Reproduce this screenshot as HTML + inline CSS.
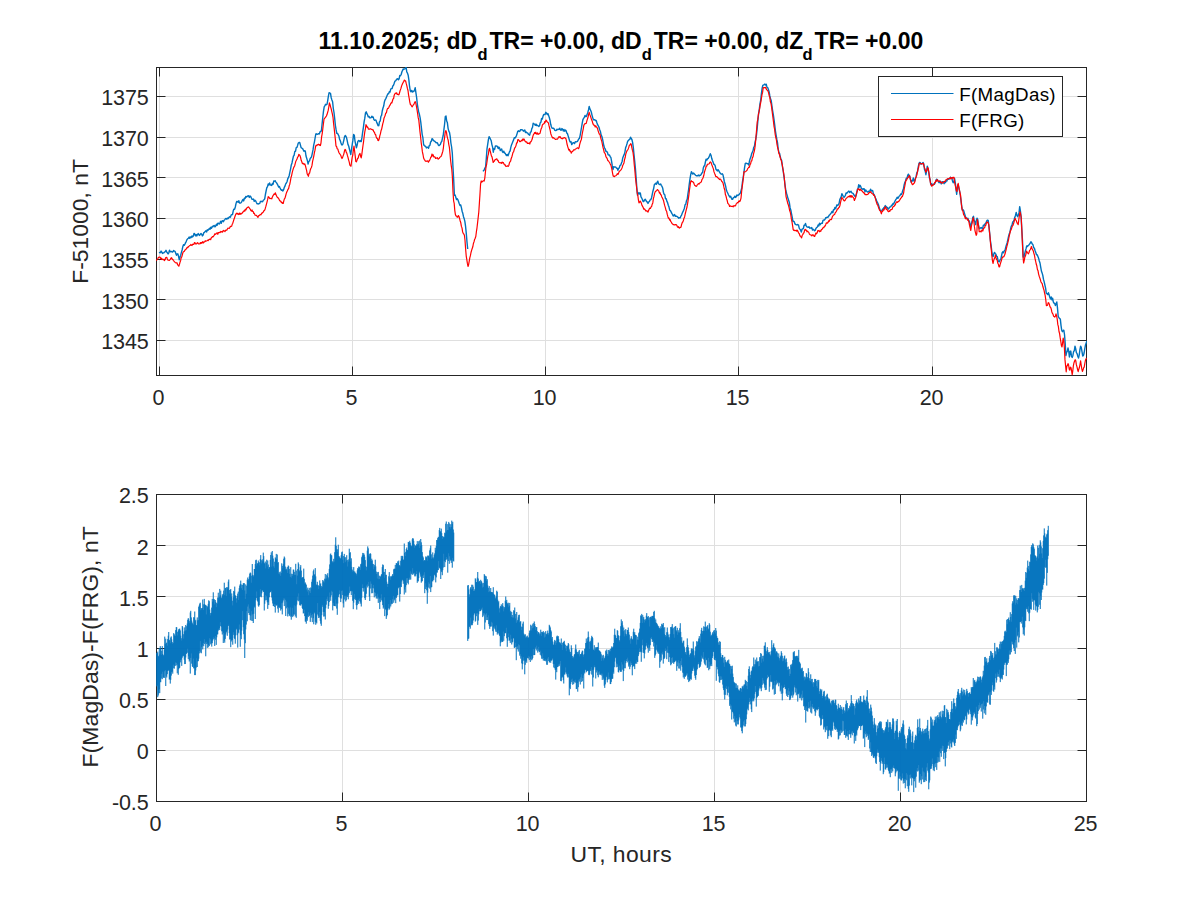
<!DOCTYPE html><html><head><meta charset="utf-8"><style>html,body{margin:0;padding:0;background:#fff;}svg{display:block;} body{font-family:"Liberation Sans",sans-serif;overflow:hidden;}</style></head><body><svg width="1200" height="900" viewBox="0 0 1200 900" font-family="&quot;Liberation Sans&quot;, sans-serif">
<rect width="1200" height="900" fill="#fff"/>
<line x1="159.5" y1="67.5" x2="159.5" y2="375.5" stroke="#dfdfdf" stroke-width="1"/>
<line x1="352.5" y1="67.5" x2="352.5" y2="375.5" stroke="#dfdfdf" stroke-width="1"/>
<line x1="545.5" y1="67.5" x2="545.5" y2="375.5" stroke="#dfdfdf" stroke-width="1"/>
<line x1="738.5" y1="67.5" x2="738.5" y2="375.5" stroke="#dfdfdf" stroke-width="1"/>
<line x1="932.5" y1="67.5" x2="932.5" y2="375.5" stroke="#dfdfdf" stroke-width="1"/>
<line x1="156.5" y1="340.5" x2="1086.5" y2="340.5" stroke="#dfdfdf" stroke-width="1"/>
<line x1="156.5" y1="299.5" x2="1086.5" y2="299.5" stroke="#dfdfdf" stroke-width="1"/>
<line x1="156.5" y1="259.5" x2="1086.5" y2="259.5" stroke="#dfdfdf" stroke-width="1"/>
<line x1="156.5" y1="218.5" x2="1086.5" y2="218.5" stroke="#dfdfdf" stroke-width="1"/>
<line x1="156.5" y1="177.5" x2="1086.5" y2="177.5" stroke="#dfdfdf" stroke-width="1"/>
<line x1="156.5" y1="137.5" x2="1086.5" y2="137.5" stroke="#dfdfdf" stroke-width="1"/>
<line x1="156.5" y1="96.5" x2="1086.5" y2="96.5" stroke="#dfdfdf" stroke-width="1"/>
<defs><clipPath id="ct"><rect x="156" y="67" width="931" height="309"/></clipPath><clipPath id="cb"><rect x="156" y="494" width="931" height="308"/></clipPath></defs>
<line x1="159.5" y1="375.5" x2="159.5" y2="366.5" stroke="#262626"/>
<line x1="159.5" y1="67.5" x2="159.5" y2="76.5" stroke="#262626"/>
<line x1="352.5" y1="375.5" x2="352.5" y2="366.5" stroke="#262626"/>
<line x1="352.5" y1="67.5" x2="352.5" y2="76.5" stroke="#262626"/>
<line x1="545.5" y1="375.5" x2="545.5" y2="366.5" stroke="#262626"/>
<line x1="545.5" y1="67.5" x2="545.5" y2="76.5" stroke="#262626"/>
<line x1="738.5" y1="375.5" x2="738.5" y2="366.5" stroke="#262626"/>
<line x1="738.5" y1="67.5" x2="738.5" y2="76.5" stroke="#262626"/>
<line x1="932.5" y1="375.5" x2="932.5" y2="366.5" stroke="#262626"/>
<line x1="932.5" y1="67.5" x2="932.5" y2="76.5" stroke="#262626"/>
<line x1="156.5" y1="340.5" x2="165.5" y2="340.5" stroke="#262626"/>
<line x1="1086.5" y1="340.5" x2="1077.5" y2="340.5" stroke="#262626"/>
<line x1="156.5" y1="299.5" x2="165.5" y2="299.5" stroke="#262626"/>
<line x1="1086.5" y1="299.5" x2="1077.5" y2="299.5" stroke="#262626"/>
<line x1="156.5" y1="259.5" x2="165.5" y2="259.5" stroke="#262626"/>
<line x1="1086.5" y1="259.5" x2="1077.5" y2="259.5" stroke="#262626"/>
<line x1="156.5" y1="218.5" x2="165.5" y2="218.5" stroke="#262626"/>
<line x1="1086.5" y1="218.5" x2="1077.5" y2="218.5" stroke="#262626"/>
<line x1="156.5" y1="177.5" x2="165.5" y2="177.5" stroke="#262626"/>
<line x1="1086.5" y1="177.5" x2="1077.5" y2="177.5" stroke="#262626"/>
<line x1="156.5" y1="137.5" x2="165.5" y2="137.5" stroke="#262626"/>
<line x1="1086.5" y1="137.5" x2="1077.5" y2="137.5" stroke="#262626"/>
<line x1="156.5" y1="96.5" x2="165.5" y2="96.5" stroke="#262626"/>
<line x1="1086.5" y1="96.5" x2="1077.5" y2="96.5" stroke="#262626"/>
<rect x="156.5" y="67.5" width="930.0" height="308.0" fill="none" stroke="#262626" stroke-width="1"/>
<g clip-path="url(#ct)">
<polyline points="159.0,252.9 159.7,252.5 160.4,252.7 161.1,251.1 161.8,252.2 162.5,253.5 163.2,252.9 163.9,252.8 164.6,252.1 165.3,251.5 166.0,250.3 166.7,252.1 167.4,252.8 168.1,254.0 168.8,252.8 169.5,250.1 170.2,251.7 170.9,251.6 171.6,251.5 172.3,252.1 173.0,251.6 173.7,250.5 174.4,251.2 175.1,251.4 175.8,253.4 176.5,255.3 177.2,253.8 177.9,254.0 178.6,256.5 179.3,259.9 180.0,257.0 180.7,255.2 181.4,252.4 182.1,250.0 182.8,246.7 183.5,244.6 184.2,245.3 184.9,244.1 185.6,242.6 186.3,241.3 187.0,239.6 187.7,238.8 188.4,238.3 189.1,237.1 189.8,238.3 190.5,236.9 191.2,237.6 191.9,235.9 192.6,236.9 193.3,236.1 194.0,233.4 194.7,233.9 195.4,235.8 196.1,234.6 196.8,235.9 197.5,234.4 198.2,233.6 198.9,235.0 199.6,235.4 200.3,234.1 201.0,233.6 201.7,234.3 202.4,235.9 203.1,235.0 203.8,232.7 204.5,232.4 205.2,231.4 205.9,230.7 206.6,232.0 207.3,229.8 208.0,230.2 208.7,229.4 209.4,228.3 210.1,229.3 210.8,227.3 211.5,228.2 212.2,226.4 212.9,226.7 213.6,225.8 214.3,225.5 215.0,226.9 215.7,226.0 216.4,224.2 217.1,225.3 217.8,223.1 218.5,223.2 219.2,224.0 219.9,223.1 220.6,221.3 221.3,223.3 222.0,220.9 222.7,220.7 223.4,221.7 224.1,220.2 224.8,219.7 225.5,218.7 226.2,218.4 226.9,219.2 227.6,218.0 228.3,218.5 229.0,217.3 229.7,216.7 230.4,217.2 231.1,215.1 231.8,214.6 232.5,214.5 233.2,211.1 233.9,209.1 234.6,209.2 235.3,207.0 236.0,203.6 236.7,201.5 237.4,201.4 238.1,202.2 238.8,200.7 239.5,203.0 240.2,203.1 240.9,202.8 241.6,202.1 242.3,200.4 243.0,199.4 243.7,200.9 244.4,198.2 245.1,198.5 245.8,196.5 246.5,197.1 247.2,196.4 247.9,195.9 248.6,195.8 249.3,197.4 250.0,196.0 250.7,196.6 251.4,198.0 252.1,199.4 252.8,199.4 253.5,199.1 254.2,201.4 254.9,200.2 255.6,200.7 256.3,202.3 257.0,203.8 257.7,203.7 258.4,204.0 259.1,203.6 259.8,203.3 260.5,201.3 261.2,201.1 261.9,201.9 262.6,201.6 263.3,200.2 264.0,199.7 264.7,198.9 265.4,194.5 266.1,191.0 266.8,187.6 267.5,186.7 268.2,183.9 268.9,185.0 269.6,183.0 270.3,185.0 271.0,185.1 271.7,185.4 272.4,183.4 273.1,184.2 273.8,180.9 274.5,181.2 275.2,180.7 275.9,182.1 276.6,182.9 277.3,184.1 278.0,185.5 278.7,187.1 279.4,186.4 280.1,188.1 280.8,189.5 281.5,190.3 282.2,189.9 282.9,191.0 283.6,189.7 284.3,187.4 285.0,186.1 285.7,183.9 286.4,183.0 287.1,181.5 287.8,178.6 288.5,177.5 289.2,175.5 289.9,172.2 290.6,168.8 291.3,164.9 292.0,162.9 292.7,159.5 293.4,156.3 294.1,155.4 294.8,151.5 295.5,151.3 296.2,147.6 296.9,147.4 297.6,145.4 298.3,143.0 299.0,142.5 299.7,142.5 300.4,144.9 301.1,147.7 301.8,148.1 302.5,148.4 303.2,149.8 303.9,151.3 304.6,150.7 305.3,151.1 306.0,156.0 306.7,158.3 307.4,160.6 308.1,164.1 308.8,161.4 309.5,161.0 310.2,158.5 310.9,157.8 311.6,156.6 312.3,153.4 313.0,149.9 313.7,145.1 314.4,142.1 315.1,138.0 315.8,134.0 316.5,133.8 317.2,134.4 317.9,134.2 318.6,133.6 319.3,133.9 320.0,131.9 320.7,131.4 321.4,130.9 322.1,123.9 322.8,117.2 323.5,111.2 324.2,106.8 324.9,105.6 325.6,104.3 326.3,104.8 327.0,104.3 327.7,100.6 328.4,96.1 329.1,92.6 329.8,93.0 330.5,93.4 331.2,97.7 331.9,99.9 332.6,101.8 333.3,108.5 334.0,112.5 334.7,118.7 335.4,125.5 336.1,129.7 336.8,133.3 337.5,133.4 338.2,134.7 338.9,136.0 339.6,139.4 340.3,140.7 341.0,143.0 341.7,144.9 342.4,144.9 343.1,143.2 343.8,140.3 344.5,136.9 345.2,135.5 345.9,136.3 346.6,137.9 347.3,141.2 348.0,144.6 348.7,146.0 349.4,149.0 350.1,151.9 350.8,154.5 351.5,149.3 352.2,144.7 352.9,140.2 353.6,134.5 354.3,135.2 355.0,141.1 355.7,144.5 356.4,147.9 357.1,145.3 357.8,141.7 358.5,140.5 359.2,140.6 359.9,141.7 360.6,140.6 361.3,141.5 362.0,137.2 362.7,131.9 363.4,127.3 364.1,121.9 364.8,118.2 365.5,112.9 366.2,111.8 366.9,113.7 367.6,115.0 368.3,116.9 369.0,116.4 369.7,117.9 370.4,117.9 371.1,117.6 371.8,116.2 372.5,117.4 373.2,117.1 373.9,119.6 374.6,120.4 375.3,120.0 376.0,120.2 376.7,122.4 377.4,123.9 378.1,125.7 378.8,125.6 379.5,121.7 380.2,121.0 380.9,116.4 381.6,115.4 382.3,110.7 383.0,108.0 383.7,106.1 384.4,101.9 385.1,99.8 385.8,98.6 386.5,97.0 387.2,95.2 387.9,93.8 388.6,93.7 389.3,91.7 390.0,92.1 390.7,89.1 391.4,88.7 392.1,88.5 392.8,86.0 393.5,85.3 394.2,83.3 394.9,81.1 395.6,80.8 396.3,79.8 397.0,78.9 397.7,78.8 398.4,79.7 399.1,78.9 399.8,75.5 400.5,75.7 401.2,74.5 401.9,71.8 402.6,70.4 403.3,68.9 404.0,69.3 404.7,68.8 405.4,68.6 406.1,67.1 406.8,72.0 407.5,73.2 408.2,75.3 408.9,80.1 409.6,86.7 410.3,90.8 411.0,91.7 411.7,90.4 412.4,92.0 413.1,91.2 413.8,91.5 414.5,90.3 415.2,87.6 415.9,92.7 416.6,97.4 417.3,103.8 418.0,108.3 418.7,111.9 419.4,114.3 420.1,117.6 420.8,122.4 421.5,128.6 422.2,134.6 422.9,137.7 423.6,144.5 424.3,145.5 425.0,146.2 425.7,146.5 426.4,147.9 427.1,147.1 427.8,147.4 428.5,148.3 429.2,145.7 429.9,145.4 430.6,142.0 431.3,141.2 432.0,138.7 432.7,139.1 433.4,140.6 434.1,140.9 434.8,141.4 435.5,142.0 436.2,142.9 436.9,142.6 437.6,143.3 438.3,145.0 439.0,145.6 439.7,145.0 440.4,144.4 441.1,142.2 441.8,141.4 442.5,138.2 443.2,135.5 443.9,129.7 444.6,124.0 445.3,116.5 446.0,116.0 446.7,121.1 447.4,122.8 448.1,128.3 448.8,131.2 449.5,132.4 450.2,136.4 450.9,143.0 451.6,147.0 452.3,153.0 453.0,167.6 453.7,180.1 454.4,195.2 455.1,195.0 455.8,197.3 456.5,199.5 457.2,198.7 457.9,199.8 458.6,201.7 459.3,203.8 460.0,205.5 460.7,204.9 461.4,207.7 462.1,211.2 462.8,213.3 463.5,216.7 464.2,218.7 464.9,221.7 465.6,226.7 466.3,233.6 467.0,242.0 467.7,249.0" fill="none" stroke="#0072BD" stroke-width="1.4" stroke-linejoin="round"/>
<polyline points="482.8,171.0 483.5,170.8 484.2,170.1 484.9,168.1 485.6,167.0 486.3,158.5 487.0,148.8 487.7,144.4 488.4,139.7 489.1,136.7 489.8,137.7 490.5,139.2 491.2,140.7 491.9,144.6 492.6,147.1 493.3,152.2 494.0,148.6 494.7,149.2 495.4,145.9 496.1,146.1 496.8,145.9 497.5,146.8 498.2,148.6 498.9,147.1 499.6,147.9 500.3,150.5 501.0,149.8 501.7,149.1 502.4,151.8 503.1,152.4 503.8,151.2 504.5,153.0 505.2,153.2 505.9,154.7 506.6,155.6 507.3,154.4 508.0,155.8 508.7,154.1 509.4,151.9 510.1,151.0 510.8,147.4 511.5,144.9 512.2,143.2 512.9,141.5 513.6,139.9 514.3,137.6 515.0,138.0 515.7,137.2 516.4,135.8 517.1,133.6 517.8,131.3 518.5,130.8 519.2,131.5 519.9,131.2 520.6,129.6 521.3,129.7 522.0,129.8 522.7,130.0 523.4,131.2 524.1,130.8 524.8,130.0 525.5,132.5 526.2,132.0 526.9,132.9 527.6,132.9 528.3,134.1 529.0,134.7 529.7,135.2 530.4,132.1 531.1,131.8 531.8,128.6 532.5,127.4 533.2,123.2 533.9,123.7 534.6,124.2 535.3,125.3 536.0,124.1 536.7,125.6 537.4,125.3 538.1,125.8 538.8,126.4 539.5,125.8 540.2,122.8 540.9,122.2 541.6,118.5 542.3,119.1 543.0,116.3 543.7,114.5 544.4,114.5 545.1,114.5 545.8,112.3 546.5,113.1 547.2,114.5 547.9,113.6 548.6,115.6 549.3,117.5 550.0,120.2 550.7,124.3 551.4,126.7 552.1,128.1 552.8,128.3 553.5,128.1 554.2,129.0 554.9,130.4 555.6,130.6 556.3,130.3 557.0,129.2 557.7,129.7 558.4,129.3 559.1,129.4 559.8,128.2 560.5,130.1 561.2,130.2 561.9,128.6 562.6,129.2 563.3,131.0 564.0,129.4 564.7,131.2 565.4,130.0 566.1,130.8 566.8,133.0 567.5,133.8 568.2,136.1 568.9,138.2 569.6,140.9 570.3,142.0 571.0,141.6 571.7,144.6 572.4,143.5 573.1,142.6 573.8,142.6 574.5,143.6 575.2,142.0 575.9,141.7 576.6,141.9 577.3,141.5 578.0,140.4 578.7,139.0 579.4,138.4 580.1,135.6 580.8,131.7 581.5,127.5 582.2,123.3 582.9,119.7 583.6,118.4 584.3,117.4 585.0,115.4 585.7,116.6 586.4,116.6 587.1,114.6 587.8,112.4 588.5,109.9 589.2,106.4 589.9,108.9 590.6,110.3 591.3,112.0 592.0,115.1 592.7,117.5 593.4,119.7 594.1,119.6 594.8,119.7 595.5,120.6 596.2,120.5 596.9,122.7 597.6,124.7 598.3,125.8 599.0,127.3 599.7,129.7 600.4,131.4 601.1,134.8 601.8,136.2 602.5,138.9 603.2,142.3 603.9,146.1 604.6,148.0 605.3,149.2 606.0,151.5 606.7,151.5 607.4,152.2 608.1,154.7 608.8,155.1 609.5,155.0 610.2,156.8 610.9,157.5 611.6,161.4 612.3,165.9 613.0,169.6 613.7,166.7 614.4,167.1 615.1,167.0 615.8,167.2 616.5,168.2 617.2,168.1 617.9,170.3 618.6,168.4 619.3,167.9 620.0,165.5 620.7,165.2 621.4,163.2 622.1,161.5 622.8,157.7 623.5,155.9 624.2,154.6 624.9,152.1 625.6,147.8 626.3,145.9 627.0,143.8 627.7,141.1 628.4,140.7 629.1,139.6 629.8,139.3 630.5,137.2 631.2,138.5 631.9,139.5 632.6,142.3 633.3,147.4 634.0,154.6 634.7,161.1 635.4,168.2 636.1,177.6 636.8,187.6 637.5,195.2 638.2,193.8 638.9,192.6 639.6,193.9 640.3,193.0 641.0,196.8 641.7,198.0 642.4,199.5 643.1,201.6 643.8,201.5 644.5,199.9 645.2,199.2 645.9,200.4 646.6,201.7 647.3,202.0 648.0,203.4 648.7,201.8 649.4,201.6 650.1,199.9 650.8,199.6 651.5,198.0 652.2,194.6 652.9,191.2 653.6,188.8 654.3,184.8 655.0,184.0 655.7,183.3 656.4,184.3 657.1,182.3 657.8,181.2 658.5,183.7 659.2,184.3 659.9,184.6 660.6,183.9 661.3,185.3 662.0,186.4 662.7,188.1 663.4,192.2 664.1,194.3 664.8,194.8 665.5,198.7 666.2,198.6 666.9,201.4 667.6,202.7 668.3,205.2 669.0,207.1 669.7,210.1 670.4,210.6 671.1,211.9 671.8,213.4 672.5,214.4 673.2,216.0 673.9,215.6 674.6,214.5 675.3,216.3 676.0,216.1 676.7,216.2 677.4,216.8 678.1,217.4 678.8,218.2 679.5,217.8 680.2,217.9 680.9,216.1 681.6,215.1 682.3,213.0 683.0,211.7 683.7,210.0 684.4,208.2 685.1,204.7 685.8,204.1 686.5,200.6 687.2,199.3 687.9,194.1 688.6,189.6 689.3,183.8 690.0,178.9 690.7,174.7 691.4,171.7 692.1,173.0 692.8,174.1 693.5,173.1 694.2,173.8 694.9,174.5 695.6,175.2 696.3,175.8 697.0,175.8 697.7,175.9 698.4,175.0 699.1,175.9 699.8,175.2 700.5,175.3 701.2,174.4 701.9,172.9 702.6,172.6 703.3,168.0 704.0,166.1 704.7,165.6 705.4,162.0 706.1,159.2 706.8,160.1 707.5,158.7 708.2,158.5 708.9,157.1 709.6,155.5 710.3,153.7 711.0,155.2 711.7,158.3 712.4,160.5 713.1,162.1 713.8,164.3 714.5,164.5 715.2,165.9 715.9,169.2 716.6,170.0 717.3,170.9 718.0,169.7 718.7,170.7 719.4,171.9 720.1,173.0 720.8,173.8 721.5,174.2 722.2,173.8 722.9,174.6 723.6,177.7 724.3,181.5 725.0,183.7 725.7,186.4 726.4,190.1 727.1,191.8 727.8,193.2 728.5,194.8 729.2,196.0 729.9,197.1 730.6,196.3 731.3,197.9 732.0,199.4 732.7,199.3 733.4,197.6 734.1,197.5 734.8,196.2 735.5,197.4 736.2,196.7 736.9,195.0 737.6,195.5 738.3,195.2 739.0,194.6 739.7,193.7 740.4,193.0 741.1,190.4 741.8,187.7 742.5,181.5 743.2,177.4 743.9,172.7 744.6,167.4 745.3,163.4 746.0,163.1 746.7,163.5 747.4,163.7 748.1,163.8 748.8,165.1 749.5,160.9 750.2,158.5 750.9,156.8 751.6,153.9 752.3,152.3 753.0,150.8 753.7,147.4 754.4,146.4 755.1,141.9 755.8,139.2 756.5,134.8 757.2,128.3 757.9,120.5 758.6,113.7 759.3,109.3 760.0,103.7 760.7,100.2 761.4,93.6 762.1,88.5 762.8,85.3 763.5,85.0 764.2,84.6 764.9,84.1 765.6,85.1 766.3,84.3 767.0,87.3 767.7,87.6 768.4,89.5 769.1,91.7 769.8,95.7 770.5,98.8 771.2,100.6 771.9,105.6 772.6,110.6 773.3,114.5 774.0,119.4 774.7,124.9 775.4,130.8 776.1,135.2 776.8,139.2 777.5,142.7 778.2,149.1 778.9,152.4 779.6,153.5 780.3,157.1 781.0,159.1 781.7,160.5 782.4,166.4 783.1,170.2 783.8,175.3 784.5,180.5 785.2,186.3 785.9,190.8 786.6,193.5 787.3,195.9 788.0,198.6 788.7,200.5 789.4,202.8 790.1,207.9 790.8,210.0 791.5,213.6 792.2,217.1 792.9,221.3 793.6,221.3 794.3,221.9 795.0,223.9 795.7,224.5 796.4,224.9 797.1,224.5 797.8,224.8 798.5,225.0 799.2,228.1 799.9,229.1 800.6,230.0 801.3,232.1 802.0,229.4 802.7,228.8 803.4,228.5 804.1,225.2 804.8,225.2 805.5,223.4 806.2,225.9 806.9,226.8 807.6,227.1 808.3,227.4 809.0,226.8 809.7,228.2 810.4,228.0 811.1,228.2 811.8,227.6 812.5,230.0 813.2,229.3 813.9,229.8 814.6,230.8 815.3,230.2 816.0,228.3 816.7,227.3 817.4,227.1 818.1,224.9 818.8,225.9 819.5,223.2 820.2,224.7 820.9,223.6 821.6,223.2 822.3,223.3 823.0,220.4 823.7,220.0 824.4,220.1 825.1,219.1 825.8,217.6 826.5,217.7 827.2,217.1 827.9,217.2 828.6,216.3 829.3,215.1 830.0,214.5 830.7,213.6 831.4,212.7 832.1,211.4 832.8,212.8 833.5,209.6 834.2,209.7 834.9,207.5 835.6,208.7 836.3,206.6 837.0,204.8 837.7,205.5 838.4,204.6 839.1,203.4 839.8,199.5 840.5,198.0 841.2,196.7 841.9,193.7 842.6,195.0 843.3,196.3 844.0,197.4 844.7,196.5 845.4,195.3 846.1,193.0 846.8,193.3 847.5,192.4 848.2,191.6 848.9,191.1 849.6,192.5 850.3,191.7 851.0,191.2 851.7,192.7 852.4,193.1 853.1,193.4 853.8,194.8 854.5,195.7 855.2,196.6 855.9,196.0 856.6,193.4 857.3,189.5 858.0,188.6 858.7,184.8 859.4,187.0 860.1,185.3 860.8,186.6 861.5,188.8 862.2,188.7 862.9,189.4 863.6,188.7 864.3,189.0 865.0,191.8 865.7,190.0 866.4,190.9 867.1,191.6 867.8,192.1 868.5,191.3 869.2,191.6 869.9,190.6 870.6,189.2 871.3,191.1 872.0,190.4 872.7,190.6 873.4,193.8 874.1,194.6 874.8,196.3 875.5,198.1 876.2,199.6 876.9,201.7 877.6,202.7 878.3,204.2 879.0,206.6 879.7,209.1 880.4,210.6 881.1,210.9 881.8,210.9 882.5,209.2 883.2,208.9 883.9,207.5 884.6,207.1 885.3,205.6 886.0,206.4 886.7,207.3 887.4,207.4 888.1,209.2 888.8,208.6 889.5,207.3 890.2,206.9 890.9,206.8 891.6,205.1 892.3,205.2 893.0,203.4 893.7,204.1 894.4,202.2 895.1,200.8 895.8,199.7 896.5,198.6 897.2,197.2 897.9,198.3 898.6,197.2 899.3,196.0 900.0,195.6 900.7,193.9 901.4,194.5 902.1,192.8 902.8,190.5 903.5,188.5 904.2,184.7 904.9,182.2 905.6,180.8 906.3,178.2 907.0,178.3 907.7,175.4 908.4,174.2 909.1,175.4 909.8,176.5 910.5,179.7 911.2,182.4 911.9,180.4 912.6,180.9 913.3,178.0 914.0,181.1 914.7,181.1 915.4,178.6 916.1,176.5 916.8,172.9 917.5,171.6 918.2,167.2 918.9,163.9 919.6,162.4 920.3,162.6 921.0,164.2 921.7,163.9 922.4,163.3 923.1,162.5 923.8,164.0 924.5,169.5 925.2,171.1 925.9,174.7 926.6,170.9 927.3,166.2 928.0,168.3 928.7,171.9 929.4,177.9 930.1,179.4 930.8,184.7 931.5,183.7 932.2,184.6 932.9,184.5 933.6,184.1 934.3,184.4 935.0,183.2 935.7,181.5 936.4,179.3 937.1,179.4 937.8,180.2 938.5,182.0 939.2,182.8 939.9,180.9 940.6,182.2 941.3,183.9 942.0,181.8 942.7,181.6 943.4,182.1 944.1,183.7 944.8,182.0 945.5,182.5 946.2,180.2 946.9,180.9 947.6,178.9 948.3,179.3 949.0,179.1 949.7,178.9 950.4,177.2 951.1,178.1 951.8,177.8 952.5,181.0 953.2,182.8 953.9,182.1 954.6,178.5 955.3,182.9 956.0,188.9 956.7,194.3 957.4,187.3 958.1,184.6 958.8,187.8 959.5,190.6 960.2,195.0 960.9,199.7 961.6,205.2 962.3,210.0 963.0,209.8 963.7,210.7 964.4,213.1 965.1,215.4 965.8,217.7 966.5,218.3 967.2,219.0 967.9,218.2 968.6,220.9 969.3,220.9 970.0,223.8 970.7,226.5 971.4,223.9 972.1,221.5 972.8,217.4 973.5,216.3 974.2,220.5 974.9,221.8 975.6,224.6 976.3,220.5 977.0,218.1 977.7,219.4 978.4,224.8 979.1,227.9 979.8,228.7 980.5,227.9 981.2,227.5 981.9,228.3 982.6,228.7 983.3,225.3 984.0,225.6 984.7,224.5 985.4,223.5 986.1,222.7 986.8,220.7 987.5,220.1 988.2,220.4 988.9,226.0 989.6,232.3 990.3,240.0 991.0,244.7 991.7,250.5 992.4,255.3 993.1,256.6 993.8,254.0 994.5,252.4 995.2,253.4 995.9,254.2 996.6,256.3 997.3,256.7 998.0,260.4 998.7,261.7 999.4,261.9 1000.1,259.8 1000.8,259.3 1001.5,256.0 1002.2,252.7 1002.9,251.8 1003.6,252.7 1004.3,250.8 1005.0,250.3 1005.7,247.5 1006.4,244.9 1007.1,243.0 1007.8,240.0 1008.5,236.7 1009.2,234.0 1009.9,232.2 1010.6,228.8 1011.3,226.2 1012.0,225.2 1012.7,222.0 1013.4,221.7 1014.1,219.7 1014.8,217.2 1015.5,215.5 1016.2,212.4 1016.9,214.9 1017.6,216.7 1018.3,215.1 1019.0,212.9 1019.7,206.6 1020.4,210.9 1021.1,216.6 1021.8,229.3 1022.5,240.9 1023.2,257.0 1023.9,257.1 1024.6,254.1 1025.3,251.1 1026.0,248.9 1026.7,246.0 1027.4,246.6 1028.1,245.5 1028.8,245.1 1029.5,244.1 1030.2,243.2 1030.9,241.7 1031.6,242.6 1032.3,244.1 1033.0,244.8 1033.7,247.6 1034.4,248.2 1035.1,250.7 1035.8,252.5 1036.5,254.7 1037.2,254.7 1037.9,256.5 1038.6,258.2 1039.3,261.0 1040.0,263.0 1040.7,267.1 1041.4,271.0 1042.1,272.9 1042.8,275.4 1043.5,279.4 1044.2,281.9 1044.9,285.1 1045.6,288.2 1046.3,293.3 1047.0,293.6 1047.7,294.6 1048.4,292.7 1049.1,294.7 1049.8,297.2 1050.5,298.9 1051.2,296.9 1051.9,299.8 1052.6,298.2 1053.3,301.9 1054.0,303.2 1054.7,303.5 1055.4,305.5 1056.1,303.7 1056.8,302.0 1057.5,308.2 1058.2,316.3 1058.9,317.7 1059.6,318.7 1060.3,318.9 1061.0,325.3 1061.7,330.2 1062.4,331.7 1063.1,330.5 1063.8,330.2 1064.5,334.5 1065.2,343.2 1065.9,355.5 1066.6,352.5 1067.3,351.3 1068.0,347.9 1068.7,351.1 1069.4,357.0 1070.1,351.6 1070.8,351.1 1071.5,356.3 1072.2,357.4 1072.9,355.4 1073.6,351.5 1074.3,350.8 1075.0,346.1 1075.7,348.8 1076.4,352.6 1077.1,353.6 1077.8,356.3 1078.5,358.0 1079.2,355.2 1079.9,349.8 1080.6,346.1 1081.3,347.5 1082.0,351.7 1082.7,356.0 1083.4,355.6 1084.1,353.0 1084.8,348.6 1085.5,344.9 1086.2,343.0 1086.9,341.0" fill="none" stroke="#0072BD" stroke-width="1.4" stroke-linejoin="round"/>
<polyline points="156.0,260.1 156.6,260.1 157.2,259.3 157.8,258.9 158.4,257.3 159.0,257.3 159.6,257.0 160.2,257.2 160.8,258.7 161.4,258.2 162.0,259.6 162.6,259.1 163.2,259.4 163.8,259.7 164.4,260.6 165.0,259.6 165.6,257.8 166.2,257.5 166.8,257.3 167.4,259.4 168.0,260.1 168.6,260.3 169.2,260.5 169.8,259.9 170.4,259.3 171.0,258.0 171.6,257.7 172.2,259.3 172.8,259.3 173.4,260.6 174.0,261.1 174.6,261.8 175.2,262.4 175.8,262.8 176.4,262.9 177.0,262.8 177.6,264.7 178.2,265.2 178.8,266.2 179.4,264.5 180.0,262.3 180.6,260.7 181.2,257.7 181.8,256.9 182.4,254.7 183.0,252.4 183.6,251.7 184.2,251.4 184.8,250.2 185.4,249.7 186.0,249.2 186.6,248.3 187.2,247.4 187.8,247.6 188.4,246.6 189.0,246.2 189.6,245.6 190.2,245.5 190.8,244.5 191.4,245.2 192.0,245.5 192.6,244.2 193.2,244.4 193.8,244.5 194.4,242.6 195.0,242.7 195.6,243.9 196.2,243.9 196.8,243.6 197.4,242.7 198.0,243.1 198.6,244.0 199.2,244.0 199.8,243.8 200.4,242.6 201.0,243.6 201.6,242.5 202.2,242.9 202.8,241.6 203.4,242.9 204.0,242.0 204.6,242.0 205.2,240.8 205.8,241.3 206.4,241.0 207.0,240.8 207.6,240.2 208.2,240.6 208.8,239.7 209.4,239.4 210.0,239.0 210.6,239.7 211.2,238.0 211.8,237.5 212.4,236.6 213.0,236.9 213.6,236.1 214.2,235.4 214.8,233.8 215.4,234.3 216.0,233.9 216.6,233.2 217.2,232.8 217.8,234.3 218.4,232.5 219.0,232.6 219.6,232.3 220.2,232.6 220.8,231.4 221.4,231.9 222.0,231.5 222.6,232.1 223.2,230.4 223.8,230.8 224.4,230.8 225.0,231.5 225.6,230.4 226.2,230.1 226.8,230.2 227.4,229.0 228.0,228.0 228.6,228.3 229.2,228.5 229.8,227.7 230.4,226.3 231.0,226.5 231.6,226.3 232.2,224.3 232.8,223.2 233.4,221.1 234.0,219.2 234.6,217.6 235.2,215.7 235.8,214.3 236.4,213.2 237.0,213.8 237.6,213.3 238.2,214.5 238.8,214.2 239.4,213.1 240.0,214.5 240.6,213.4 241.2,214.0 241.8,213.6 242.4,212.6 243.0,211.9 243.6,211.6 244.2,210.4 244.8,211.2 245.4,209.2 246.0,209.9 246.6,208.2 247.2,207.7 247.8,207.3 248.4,206.8 249.0,207.5 249.6,208.4 250.2,209.1 250.8,210.4 251.4,211.1 252.0,209.9 252.6,211.5 253.2,211.5 253.8,213.5 254.4,213.4 255.0,215.1 255.6,215.3 256.2,215.3 256.8,215.8 257.4,216.8 258.0,217.4 258.6,215.6 259.2,215.7 259.8,215.0 260.4,214.5 261.0,214.8 261.6,213.1 262.2,213.2 262.8,212.3 263.4,212.0 264.0,210.5 264.6,210.4 265.2,208.7 265.8,206.7 266.4,204.3 267.0,202.1 267.6,199.7 268.2,196.7 268.8,197.0 269.4,198.0 270.0,198.7 270.6,198.5 271.2,198.3 271.8,198.9 272.4,196.9 273.0,195.7 273.6,194.8 274.2,193.9 274.8,194.4 275.4,192.8 276.0,194.8 276.6,196.0 277.2,197.2 277.8,197.8 278.4,198.1 279.0,199.3 279.6,200.5 280.2,201.1 280.8,201.1 281.4,202.7 282.0,202.4 282.6,203.5 283.2,203.5 283.8,200.9 284.4,198.9 285.0,198.2 285.6,196.0 286.2,193.6 286.8,192.0 287.4,190.7 288.0,189.2 288.6,188.7 289.2,185.8 289.8,184.2 290.4,181.2 291.0,177.5 291.6,175.6 292.2,172.6 292.8,170.4 293.4,168.3 294.0,166.9 294.6,166.0 295.2,163.6 295.8,161.3 296.4,160.2 297.0,159.0 297.6,157.2 298.2,156.6 298.8,154.3 299.4,154.9 300.0,155.7 300.6,157.5 301.2,160.3 301.8,161.7 302.4,163.6 303.0,163.3 303.6,163.7 304.2,164.6 304.8,163.9 305.4,165.6 306.0,168.1 306.6,170.3 307.2,174.0 307.8,175.0 308.4,176.3 309.0,173.4 309.6,173.1 310.2,170.3 310.8,168.5 311.4,167.5 312.0,165.4 312.6,161.3 313.2,158.8 313.8,156.1 314.4,152.6 315.0,150.2 315.6,146.3 316.2,145.2 316.8,145.7 317.4,144.8 318.0,144.5 318.6,144.2 319.2,145.3 319.8,144.7 320.4,145.5 321.0,142.8 321.6,136.9 322.2,133.6 322.8,128.9 323.4,124.0 324.0,119.3 324.6,118.3 325.2,117.6 325.8,116.8 326.4,116.0 327.0,114.6 327.6,112.5 328.2,110.4 328.8,107.0 329.4,102.9 330.0,104.5 330.6,106.8 331.2,108.9 331.8,111.7 332.4,114.2 333.0,117.3 333.6,123.6 334.2,128.6 334.8,134.3 335.4,139.6 336.0,146.1 336.6,146.5 337.2,148.8 337.8,149.0 338.4,151.0 339.0,152.7 339.6,153.7 340.2,154.5 340.8,155.3 341.4,157.3 342.0,158.5 342.6,157.4 343.2,155.6 343.8,154.1 344.4,151.3 345.0,149.4 345.6,149.8 346.2,152.2 346.8,153.1 347.4,155.4 348.0,157.4 348.6,159.8 349.2,161.8 349.8,165.0 350.4,165.7 351.0,166.2 351.6,161.3 352.2,157.4 352.8,155.0 353.4,149.7 354.0,146.0 354.6,151.0 355.2,155.9 355.8,161.4 356.4,161.8 357.0,160.2 357.6,158.4 358.2,158.2 358.8,155.5 359.4,154.3 360.0,153.4 360.6,156.2 361.2,157.9 361.8,154.6 362.4,149.9 363.0,145.5 363.6,141.3 364.2,136.1 364.8,131.9 365.4,128.9 366.0,124.7 366.6,125.8 367.2,127.3 367.8,127.2 368.4,129.2 369.0,129.2 369.6,129.2 370.2,128.8 370.8,128.9 371.4,129.4 372.0,129.4 372.6,130.0 373.2,129.9 373.8,131.9 374.4,132.0 375.0,134.2 375.6,134.5 376.2,136.9 376.8,138.3 377.4,138.3 378.0,140.5 378.6,140.6 379.2,138.8 379.8,135.9 380.4,133.9 381.0,130.8 381.6,129.3 382.2,126.5 382.8,123.7 383.4,121.6 384.0,118.2 384.6,116.8 385.2,115.2 385.8,113.0 386.4,113.0 387.0,109.9 387.6,108.4 388.2,108.3 388.8,107.5 389.4,106.1 390.0,105.2 390.6,103.9 391.2,102.9 391.8,103.0 392.4,101.0 393.0,99.0 393.6,98.6 394.2,95.2 394.8,94.0 395.4,93.2 396.0,93.6 396.6,92.8 397.2,94.3 397.8,94.3 398.4,94.8 399.0,94.6 399.6,92.5 400.2,90.4 400.8,88.9 401.4,86.6 402.0,84.9 402.6,83.6 403.2,82.4 403.8,81.3 404.4,80.1 405.0,80.8 405.6,80.9 406.2,83.4 406.8,85.6 407.4,88.4 408.0,90.5 408.6,95.1 409.2,98.4 409.8,102.1 410.4,104.5 411.0,104.9 411.6,106.1 412.2,106.8 412.8,105.8 413.4,104.8 414.0,104.1 414.6,102.5 415.2,101.6 415.8,103.1 416.4,106.1 417.0,109.7 417.6,113.4 418.2,117.7 418.8,120.1 419.4,125.9 420.0,132.0 420.6,136.8 421.2,142.8 421.8,146.9 422.4,151.9 423.0,154.5 423.6,158.0 424.2,159.3 424.8,160.2 425.4,161.1 426.0,161.3 426.6,161.2 427.2,161.2 427.8,160.8 428.4,162.2 429.0,161.2 429.6,160.4 430.2,158.9 430.8,157.2 431.4,156.7 432.0,154.0 432.6,156.0 433.2,154.9 433.8,157.0 434.4,156.8 435.0,157.1 435.6,158.5 436.2,158.1 436.8,158.2 437.4,157.6 438.0,159.1 438.6,158.9 439.2,158.4 439.8,157.4 440.4,156.8 441.0,156.5 441.6,155.2 442.2,153.3 442.8,151.4 443.4,147.8 444.0,141.7 444.6,137.6 445.2,132.2 445.8,130.6 446.4,131.9 447.0,135.8 447.6,138.4 448.2,140.3 448.8,144.6 449.4,147.4 450.0,154.0 450.6,160.3 451.2,165.4 451.8,169.4 452.4,177.4 453.0,192.0 453.6,200.8 454.2,203.4 454.8,210.6 455.4,214.6 456.0,216.0 456.6,216.0 457.2,217.3 457.8,217.0 458.4,215.6 459.0,216.5 459.6,218.7 460.2,221.0 460.8,222.8 461.4,226.4 462.0,227.9 462.6,231.7 463.2,233.4 463.8,234.0 464.4,235.3 465.0,240.2 465.6,248.7 466.2,255.8 466.8,259.7 467.4,263.4 468.0,266.5 468.6,264.7 469.2,261.4 469.8,257.8 470.4,255.7 471.0,252.5 471.6,250.4 472.2,248.5 472.8,246.8 473.4,243.5 474.0,241.9 474.6,239.5 475.2,238.3 475.8,236.5 476.4,231.7 477.0,227.8 477.6,222.6 478.2,217.4 478.8,212.0 479.4,202.9 480.0,193.8 480.6,183.8 481.2,180.9 481.8,182.1 482.4,181.5 483.0,181.1 483.6,180.7 484.2,181.0 484.8,178.1 485.4,172.2 486.0,166.9 486.6,164.5 487.2,160.3 487.8,156.2 488.4,154.2 489.0,149.4 489.6,148.3 490.2,151.0 490.8,153.3 491.4,155.9 492.0,156.8 492.6,159.7 493.2,162.5 493.8,161.4 494.4,161.1 495.0,159.8 495.6,159.4 496.2,159.2 496.8,158.8 497.4,160.3 498.0,160.3 498.6,162.0 499.2,162.4 499.8,162.9 500.4,163.0 501.0,162.6 501.6,163.3 502.2,162.0 502.8,162.9 503.4,162.6 504.0,164.1 504.6,164.9 505.2,164.8 505.8,166.4 506.4,166.3 507.0,166.1 507.6,165.8 508.2,166.3 508.8,165.5 509.4,163.1 510.0,161.8 510.6,161.2 511.2,158.5 511.8,157.0 512.4,154.8 513.0,152.4 513.6,151.8 514.2,149.5 514.8,147.8 515.4,147.1 516.0,145.6 516.6,142.8 517.2,142.9 517.8,139.7 518.4,139.7 519.0,140.3 519.6,141.6 520.2,141.6 520.8,141.3 521.4,140.3 522.0,140.8 522.6,139.1 523.2,140.2 523.8,138.9 524.4,139.6 525.0,141.2 525.6,141.8 526.2,142.1 526.8,141.9 527.4,143.5 528.0,143.4 528.6,143.4 529.2,142.9 529.8,144.0 530.4,141.9 531.0,141.7 531.6,140.5 532.2,139.1 532.8,136.6 533.4,134.6 534.0,133.9 534.6,132.5 535.2,133.5 535.8,132.2 536.4,133.7 537.0,134.2 537.6,132.9 538.2,134.4 538.8,133.9 539.4,133.7 540.0,133.3 540.6,130.8 541.2,128.7 541.8,127.5 542.4,124.8 543.0,124.2 543.6,123.9 544.2,123.5 544.8,121.5 545.4,122.1 546.0,120.0 546.6,120.9 547.2,121.9 547.8,122.3 548.4,122.9 549.0,125.7 549.6,128.0 550.2,130.4 550.8,133.7 551.4,135.4 552.0,136.9 552.6,137.9 553.2,137.6 553.8,138.0 554.4,138.5 555.0,138.9 555.6,139.5 556.2,139.3 556.8,139.0 557.4,139.2 558.0,138.3 558.6,137.1 559.2,136.7 559.8,137.5 560.4,136.8 561.0,138.3 561.6,138.5 562.2,138.8 562.8,138.1 563.4,138.2 564.0,137.7 564.6,137.6 565.2,138.1 565.8,138.4 566.4,140.7 567.0,144.0 567.6,146.2 568.2,148.1 568.8,150.1 569.4,149.5 570.0,151.4 570.6,151.1 571.2,153.2 571.8,152.0 572.4,151.6 573.0,151.0 573.6,149.9 574.2,149.9 574.8,149.9 575.4,149.0 576.0,148.8 576.6,148.4 577.2,147.9 577.8,147.9 578.4,148.7 579.0,147.8 579.6,144.8 580.2,142.6 580.8,140.7 581.4,139.4 582.0,135.2 582.6,132.0 583.2,129.1 583.8,125.6 584.4,124.2 585.0,123.6 585.6,123.6 586.2,123.4 586.8,121.2 587.4,119.1 588.0,117.5 588.6,114.4 589.2,112.3 589.8,114.4 590.4,116.1 591.0,117.8 591.6,119.8 592.2,121.0 592.8,123.3 593.4,124.8 594.0,125.2 594.6,125.3 595.2,127.0 595.8,125.9 596.4,127.0 597.0,127.4 597.6,128.8 598.2,131.1 598.8,132.8 599.4,134.2 600.0,134.4 600.6,137.3 601.2,139.6 601.8,141.4 602.4,144.5 603.0,147.4 603.6,149.5 604.2,152.3 604.8,153.1 605.4,154.3 606.0,156.9 606.6,157.7 607.2,158.6 607.8,160.7 608.4,160.8 609.0,161.8 609.6,162.4 610.2,164.0 610.8,164.9 611.4,167.1 612.0,169.8 612.6,173.3 613.2,176.1 613.8,176.2 614.4,176.7 615.0,176.0 615.6,175.8 616.2,175.4 616.8,174.6 617.4,173.7 618.0,174.4 618.6,173.0 619.2,171.5 619.8,171.0 620.4,170.4 621.0,169.9 621.6,168.7 622.2,167.4 622.8,165.3 623.4,164.2 624.0,162.7 624.6,159.4 625.2,157.5 625.8,154.0 626.4,152.4 627.0,150.7 627.6,150.1 628.2,148.9 628.8,147.2 629.4,145.2 630.0,144.9 630.6,143.7 631.2,144.1 631.8,147.3 632.4,150.2 633.0,152.3 633.6,156.8 634.2,164.3 634.8,169.8 635.4,176.9 636.0,182.4 636.6,187.5 637.2,192.8 637.8,195.3 638.4,199.8 639.0,203.0 639.6,202.1 640.2,201.1 640.8,202.1 641.4,203.3 642.0,205.4 642.6,206.4 643.2,207.5 643.8,209.2 644.4,208.8 645.0,209.6 645.6,210.8 646.2,211.1 646.8,210.7 647.4,211.5 648.0,212.0 648.6,210.5 649.2,209.1 649.8,208.2 650.4,208.4 651.0,207.0 651.6,206.6 652.2,204.2 652.8,202.9 653.4,198.7 654.0,196.4 654.6,193.4 655.2,191.9 655.8,191.0 656.4,191.0 657.0,190.0 657.6,189.6 658.2,190.5 658.8,190.9 659.4,193.2 660.0,192.6 660.6,194.6 661.2,194.8 661.8,197.0 662.4,197.9 663.0,199.3 663.6,200.8 664.2,203.6 664.8,205.9 665.4,207.9 666.0,210.4 666.6,211.1 667.2,214.2 667.8,216.4 668.4,218.2 669.0,218.0 669.6,220.2 670.2,219.6 670.8,221.6 671.4,222.2 672.0,223.5 672.6,223.9 673.2,224.6 673.8,224.6 674.4,224.9 675.0,224.9 675.6,224.6 676.2,224.6 676.8,225.3 677.4,226.9 678.0,227.3 678.6,226.6 679.2,228.1 679.8,227.9 680.4,227.4 681.0,227.2 681.6,224.5 682.2,222.7 682.8,222.0 683.4,220.5 684.0,218.2 684.6,216.9 685.2,214.0 685.8,211.6 686.4,209.2 687.0,207.0 687.6,203.7 688.2,199.7 688.8,195.7 689.4,190.4 690.0,186.5 690.6,181.7 691.2,180.7 691.8,181.6 692.4,181.6 693.0,182.0 693.6,182.5 694.2,184.2 694.8,185.4 695.4,185.7 696.0,186.3 696.6,186.2 697.2,184.9 697.8,184.4 698.4,183.6 699.0,184.1 699.6,183.4 700.2,182.5 700.8,182.2 701.4,181.7 702.0,179.4 702.6,178.9 703.2,177.3 703.8,175.5 704.4,172.3 705.0,170.4 705.6,168.5 706.2,166.1 706.8,166.1 707.4,164.3 708.0,164.2 708.6,164.0 709.2,163.7 709.8,162.4 710.4,161.9 711.0,162.5 711.6,164.3 712.2,165.8 712.8,167.4 713.4,168.9 714.0,171.9 714.6,173.4 715.2,174.8 715.8,176.6 716.4,176.6 717.0,176.7 717.6,177.8 718.2,178.0 718.8,178.7 719.4,179.5 720.0,179.0 720.6,179.3 721.2,180.3 721.8,181.5 722.4,181.9 723.0,183.0 723.6,185.5 724.2,188.5 724.8,189.9 725.4,194.6 726.0,196.0 726.6,198.7 727.2,200.5 727.8,203.3 728.4,203.9 729.0,204.6 729.6,206.5 730.2,205.9 730.8,206.2 731.4,206.4 732.0,206.4 732.6,206.2 733.2,206.8 733.8,205.7 734.4,205.7 735.0,206.1 735.6,205.6 736.2,203.9 736.8,203.4 737.4,202.5 738.0,202.8 738.6,201.5 739.2,200.8 739.8,201.6 740.4,200.4 741.0,198.2 741.6,192.0 742.2,186.9 742.8,182.6 743.4,177.7 744.0,171.7 744.6,172.0 745.2,171.8 745.8,171.4 746.4,170.8 747.0,170.4 747.6,168.9 748.2,168.0 748.8,167.0 749.4,167.3 750.0,164.6 750.6,163.8 751.2,161.1 751.8,160.9 752.4,157.7 753.0,156.9 753.6,153.6 754.2,151.5 754.8,148.7 755.4,143.6 756.0,136.5 756.6,129.6 757.2,122.1 757.8,119.4 758.4,114.5 759.0,111.9 759.6,108.9 760.2,105.0 760.8,102.2 761.4,98.3 762.0,94.6 762.6,92.4 763.2,87.7 763.8,87.8 764.4,87.5 765.0,87.8 765.6,87.3 766.2,88.9 766.8,89.9 767.4,90.4 768.0,91.1 768.6,92.9 769.2,95.7 769.8,97.2 770.4,101.8 771.0,103.4 771.6,107.2 772.2,111.8 772.8,116.5 773.4,121.1 774.0,126.3 774.6,129.2 775.2,134.5 775.8,137.6 776.4,139.9 777.0,144.5 777.6,147.5 778.2,149.5 778.8,153.3 779.4,154.4 780.0,156.6 780.6,158.9 781.2,160.2 781.8,162.8 782.4,165.5 783.0,169.5 783.6,173.0 784.2,176.8 784.8,183.8 785.4,189.3 786.0,196.3 786.6,198.9 787.2,201.0 787.8,203.6 788.4,205.0 789.0,207.3 789.6,210.3 790.2,212.0 790.8,215.0 791.4,219.2 792.0,221.9 792.6,225.6 793.2,229.6 793.8,230.3 794.4,230.2 795.0,230.7 795.6,230.6 796.2,230.1 796.8,231.3 797.4,230.2 798.0,231.5 798.6,233.1 799.2,233.5 799.8,235.4 800.4,236.4 801.0,236.9 801.6,237.8 802.2,235.3 802.8,234.7 803.4,233.0 804.0,232.9 804.6,230.2 805.2,229.3 805.8,230.3 806.4,230.2 807.0,231.8 807.6,231.2 808.2,231.9 808.8,232.4 809.4,234.1 810.0,234.7 810.6,234.9 811.2,235.0 811.8,235.9 812.4,234.9 813.0,234.9 813.6,235.2 814.2,236.5 814.8,236.4 815.4,234.2 816.0,233.0 816.6,233.8 817.2,232.8 817.8,230.6 818.4,231.0 819.0,230.5 819.6,231.8 820.2,231.1 820.8,231.3 821.4,229.5 822.0,229.4 822.6,228.2 823.2,227.7 823.8,227.7 824.4,226.2 825.0,226.2 825.6,224.9 826.2,223.3 826.8,222.8 827.4,223.2 828.0,222.5 828.6,220.8 829.2,221.4 829.8,219.8 830.4,219.7 831.0,219.7 831.6,219.2 832.2,217.1 832.8,216.0 833.4,215.2 834.0,214.8 834.6,214.5 835.2,212.9 835.8,212.1 836.4,211.3 837.0,209.9 837.6,208.8 838.2,208.8 838.8,207.6 839.4,207.0 840.0,205.2 840.6,202.1 841.2,199.8 841.8,197.3 842.4,198.3 843.0,199.0 843.6,200.2 844.2,201.0 844.8,200.7 845.4,199.8 846.0,198.6 846.6,198.1 847.2,197.3 847.8,197.0 848.4,196.4 849.0,196.8 849.6,195.8 850.2,197.0 850.8,195.5 851.4,197.1 852.0,195.7 852.6,196.9 853.2,197.3 853.8,198.3 854.4,200.5 855.0,199.0 855.6,197.8 856.2,194.5 856.8,192.5 857.4,190.7 858.0,188.8 858.6,189.3 859.2,189.1 859.8,190.4 860.4,189.2 861.0,189.8 861.6,190.5 862.2,191.2 862.8,191.7 863.4,192.8 864.0,192.6 864.6,193.9 865.2,194.7 865.8,194.4 866.4,194.8 867.0,194.6 867.6,194.5 868.2,194.0 868.8,192.9 869.4,192.6 870.0,192.5 870.6,191.7 871.2,192.6 871.8,193.4 872.4,193.9 873.0,193.8 873.6,195.3 874.2,195.2 874.8,196.5 875.4,198.4 876.0,200.9 876.6,202.7 877.2,204.5 877.8,205.2 878.4,207.1 879.0,208.8 879.6,210.3 880.2,210.7 880.8,212.1 881.4,213.8 882.0,211.4 882.6,211.5 883.2,209.7 883.8,210.1 884.4,209.0 885.0,207.0 885.6,206.9 886.2,209.3 886.8,209.0 887.4,210.3 888.0,211.2 888.6,211.7 889.2,210.8 889.8,211.3 890.4,210.0 891.0,209.6 891.6,209.6 892.2,209.2 892.8,207.2 893.4,206.5 894.0,206.5 894.6,205.1 895.2,205.1 895.8,203.3 896.4,202.1 897.0,201.9 897.6,202.4 898.2,201.3 898.8,201.4 899.4,200.5 900.0,199.7 900.6,198.2 901.2,198.0 901.8,196.7 902.4,196.7 903.0,194.7 903.6,193.1 904.2,188.8 904.8,186.2 905.4,182.8 906.0,180.1 906.6,180.1 907.2,178.6 907.8,177.8 908.4,177.3 909.0,176.1 909.6,175.7 910.2,178.6 910.8,180.5 911.4,182.2 912.0,184.0 912.6,184.7 913.2,184.2 913.8,183.2 914.4,183.2 915.0,180.8 915.6,178.1 916.2,176.9 916.8,175.1 917.4,172.2 918.0,169.3 918.6,167.5 919.2,163.7 919.8,163.1 920.4,163.6 921.0,163.7 921.6,163.9 922.2,163.8 922.8,163.4 923.4,163.4 924.0,166.2 924.6,167.9 925.2,169.4 925.8,172.1 926.4,171.3 927.0,169.9 927.6,167.7 928.2,168.3 928.8,172.0 929.4,175.7 930.0,180.2 930.6,183.6 931.2,185.1 931.8,186.3 932.4,185.1 933.0,185.4 933.6,184.5 934.2,184.1 934.8,182.3 935.4,182.3 936.0,180.4 936.6,181.0 937.2,179.5 937.8,180.8 938.4,181.3 939.0,181.3 939.6,181.1 940.2,181.5 940.8,182.8 941.4,182.3 942.0,182.8 942.6,183.2 943.2,182.0 943.8,182.2 944.4,181.4 945.0,181.5 945.6,180.8 946.2,179.5 946.8,179.3 947.4,179.1 948.0,178.6 948.6,178.9 949.2,178.4 949.8,178.2 950.4,177.4 951.0,179.0 951.6,178.0 952.2,177.5 952.8,178.3 953.4,177.3 954.0,177.4 954.6,182.2 955.2,185.1 955.8,187.9 956.4,190.9 957.0,191.3 957.6,185.5 958.2,183.4 958.8,186.5 959.4,190.2 960.0,192.6 960.6,195.4 961.2,202.4 961.8,208.0 962.4,210.3 963.0,211.6 963.6,214.6 964.2,215.4 964.8,216.9 965.4,218.8 966.0,217.7 966.6,218.3 967.2,219.0 967.8,220.3 968.4,219.8 969.0,222.3 969.6,225.7 970.2,228.0 970.8,230.5 971.4,226.1 972.0,223.7 972.6,220.2 973.2,217.6 973.8,220.8 974.4,226.4 975.0,230.6 975.6,233.1 976.2,235.3 976.8,234.0 977.4,219.5 978.0,222.8 978.6,226.2 979.2,231.8 979.8,231.5 980.4,231.2 981.0,232.0 981.6,230.7 982.2,229.9 982.8,231.0 983.4,228.9 984.0,227.8 984.6,227.8 985.2,225.6 985.8,225.4 986.4,222.9 987.0,222.2 987.6,222.1 988.2,223.1 988.8,224.8 989.4,231.1 990.0,236.7 990.6,244.3 991.2,248.7 991.8,255.2 992.4,260.3 993.0,263.5 993.6,260.9 994.2,258.9 994.8,257.8 995.4,255.1 996.0,257.7 996.6,259.6 997.2,260.2 997.8,263.3 998.4,264.3 999.0,266.8 999.6,266.8 1000.2,264.2 1000.8,262.4 1001.4,260.6 1002.0,258.2 1002.6,257.1 1003.2,256.8 1003.8,256.8 1004.4,255.4 1005.0,254.1 1005.6,251.7 1006.2,249.4 1006.8,246.6 1007.4,244.6 1008.0,241.8 1008.6,239.5 1009.2,236.0 1009.8,233.6 1010.4,231.0 1011.0,230.0 1011.6,228.3 1012.2,226.3 1012.8,225.7 1013.4,224.0 1014.0,222.2 1014.6,219.6 1015.2,218.4 1015.8,220.0 1016.4,220.8 1017.0,222.8 1017.6,223.7 1018.2,224.7 1018.8,219.8 1019.4,215.4 1020.0,211.9 1020.6,214.0 1021.2,217.5 1021.8,229.2 1022.4,243.6 1023.0,256.5 1023.6,263.0 1024.2,260.7 1024.8,257.3 1025.4,256.0 1026.0,253.8 1026.6,251.0 1027.2,252.5 1027.8,253.0 1028.4,253.8 1029.0,252.5 1029.6,250.4 1030.2,249.8 1030.8,248.6 1031.4,246.5 1032.0,248.7 1032.6,249.6 1033.2,250.7 1033.8,253.1 1034.4,255.0 1035.0,258.4 1035.6,261.0 1036.2,264.0 1036.8,265.8 1037.4,269.5 1038.0,270.6 1038.6,274.1 1039.2,276.2 1039.8,277.9 1040.4,279.8 1041.0,282.0 1041.6,282.9 1042.2,283.6 1042.8,286.3 1043.4,288.2 1044.0,290.1 1044.6,293.1 1045.2,295.7 1045.8,300.0 1046.4,305.6 1047.0,305.5 1047.6,305.2 1048.2,302.7 1048.8,302.9 1049.4,304.4 1050.0,306.9 1050.6,307.2 1051.2,308.9 1051.8,311.7 1052.4,313.4 1053.0,314.1 1053.6,316.3 1054.2,316.5 1054.8,317.0 1055.4,316.2 1056.0,313.8 1056.6,315.9 1057.2,319.0 1057.8,324.4 1058.4,326.7 1059.0,331.5 1059.6,333.7 1060.2,337.9 1060.8,341.5 1061.4,345.6 1062.0,347.0 1062.6,342.9 1063.2,338.1 1063.8,341.0 1064.4,348.2 1065.0,359.9 1065.6,365.9 1066.2,371.8 1066.8,366.2 1067.4,365.5 1068.0,363.6 1068.6,365.0 1069.2,369.1 1069.8,370.2 1070.4,367.2 1071.0,367.7 1071.6,370.9 1072.2,374.7 1072.8,370.8 1073.4,365.6 1074.0,362.7 1074.6,361.0 1075.2,359.7 1075.8,360.8 1076.4,364.9 1077.0,366.9 1077.6,369.7 1078.2,371.6 1078.8,369.2 1079.4,367.5 1080.0,364.6 1080.6,360.8 1081.2,365.0 1081.8,368.9 1082.4,371.4 1083.0,370.0 1083.6,367.9 1084.2,367.2 1084.8,363.6 1085.4,360.5 1086.0,359.0 1086.6,358.0" fill="none" stroke="#FF0000" stroke-width="1.2" stroke-linejoin="round"/>
</g>
<g font-size="21.5" letter-spacing="-0.15" fill="#262626">
<text x="158.5" y="405" text-anchor="middle">0</text>
<text x="351.5" y="405" text-anchor="middle">5</text>
<text x="544.5" y="405" text-anchor="middle">10</text>
<text x="737.5" y="405" text-anchor="middle">15</text>
<text x="931.5" y="405" text-anchor="middle">20</text>
<text x="148.5" y="349.1" text-anchor="end">1345</text>
<text x="148.5" y="308.5" text-anchor="end">1350</text>
<text x="148.5" y="267.8" text-anchor="end">1355</text>
<text x="148.5" y="227.2" text-anchor="end">1360</text>
<text x="148.5" y="186.6" text-anchor="end">1365</text>
<text x="148.5" y="145.9" text-anchor="end">1370</text>
<text x="148.5" y="105.3" text-anchor="end">1375</text>
</g>
<rect x="878.5" y="76.5" width="184" height="60" fill="#fff" stroke="#262626"/>
<line x1="891" y1="93.5" x2="953.5" y2="93.5" stroke="#0072BD" stroke-width="1.1"/>
<line x1="891" y1="119.5" x2="953.5" y2="119.5" stroke="#FF0000" stroke-width="1.1"/>
<g font-size="18.75" fill="#000" letter-spacing="0.33"><text x="959.2" y="101">F(MagDas)</text><text x="959.2" y="127">F(FRG)</text></g>
<g font-size="23" font-weight="bold" fill="#000"><text x="318.5" y="49">11.10.2025; dD</text><text x="477.5" y="59.5" font-size="16.5">d</text><text x="489.5" y="49">TR= +0.00, dD</text><text x="641.7" y="59.5" font-size="16.5">d</text><text x="653.75" y="49">TR= +0.00, dZ</text><text x="802.5" y="59.5" font-size="16.5">d</text><text x="814.6" y="49">TR= +0.00</text></g>
<text transform="translate(87.8,283.8) rotate(-90)" font-size="22.9" fill="#262626">F-51000, nT</text>
<line x1="342.5" y1="494.5" x2="342.5" y2="801.5" stroke="#dfdfdf" stroke-width="1"/>
<line x1="528.5" y1="494.5" x2="528.5" y2="801.5" stroke="#dfdfdf" stroke-width="1"/>
<line x1="714.5" y1="494.5" x2="714.5" y2="801.5" stroke="#dfdfdf" stroke-width="1"/>
<line x1="900.5" y1="494.5" x2="900.5" y2="801.5" stroke="#dfdfdf" stroke-width="1"/>
<line x1="156.5" y1="750.5" x2="1086.5" y2="750.5" stroke="#dfdfdf" stroke-width="1"/>
<line x1="156.5" y1="699.5" x2="1086.5" y2="699.5" stroke="#dfdfdf" stroke-width="1"/>
<line x1="156.5" y1="648.5" x2="1086.5" y2="648.5" stroke="#dfdfdf" stroke-width="1"/>
<line x1="156.5" y1="596.5" x2="1086.5" y2="596.5" stroke="#dfdfdf" stroke-width="1"/>
<line x1="156.5" y1="545.5" x2="1086.5" y2="545.5" stroke="#dfdfdf" stroke-width="1"/>
<line x1="156.5" y1="801.5" x2="156.5" y2="792.5" stroke="#262626"/>
<line x1="156.5" y1="494.5" x2="156.5" y2="503.5" stroke="#262626"/>
<line x1="342.5" y1="801.5" x2="342.5" y2="792.5" stroke="#262626"/>
<line x1="342.5" y1="494.5" x2="342.5" y2="503.5" stroke="#262626"/>
<line x1="528.5" y1="801.5" x2="528.5" y2="792.5" stroke="#262626"/>
<line x1="528.5" y1="494.5" x2="528.5" y2="503.5" stroke="#262626"/>
<line x1="714.5" y1="801.5" x2="714.5" y2="792.5" stroke="#262626"/>
<line x1="714.5" y1="494.5" x2="714.5" y2="503.5" stroke="#262626"/>
<line x1="900.5" y1="801.5" x2="900.5" y2="792.5" stroke="#262626"/>
<line x1="900.5" y1="494.5" x2="900.5" y2="503.5" stroke="#262626"/>
<line x1="1086.5" y1="801.5" x2="1086.5" y2="792.5" stroke="#262626"/>
<line x1="1086.5" y1="494.5" x2="1086.5" y2="503.5" stroke="#262626"/>
<line x1="156.5" y1="801.5" x2="165.5" y2="801.5" stroke="#262626"/>
<line x1="1086.5" y1="801.5" x2="1077.5" y2="801.5" stroke="#262626"/>
<line x1="156.5" y1="750.5" x2="165.5" y2="750.5" stroke="#262626"/>
<line x1="1086.5" y1="750.5" x2="1077.5" y2="750.5" stroke="#262626"/>
<line x1="156.5" y1="699.5" x2="165.5" y2="699.5" stroke="#262626"/>
<line x1="1086.5" y1="699.5" x2="1077.5" y2="699.5" stroke="#262626"/>
<line x1="156.5" y1="648.5" x2="165.5" y2="648.5" stroke="#262626"/>
<line x1="1086.5" y1="648.5" x2="1077.5" y2="648.5" stroke="#262626"/>
<line x1="156.5" y1="596.5" x2="165.5" y2="596.5" stroke="#262626"/>
<line x1="1086.5" y1="596.5" x2="1077.5" y2="596.5" stroke="#262626"/>
<line x1="156.5" y1="545.5" x2="165.5" y2="545.5" stroke="#262626"/>
<line x1="1086.5" y1="545.5" x2="1077.5" y2="545.5" stroke="#262626"/>
<line x1="156.5" y1="494.5" x2="165.5" y2="494.5" stroke="#262626"/>
<line x1="1086.5" y1="494.5" x2="1077.5" y2="494.5" stroke="#262626"/>
<rect x="156.5" y="494.5" width="930.0" height="307.0" fill="none" stroke="#262626" stroke-width="1"/>
<g clip-path="url(#cb)">
<path d="M156.75 652.9V686.4M157.25 653.3V685.5M157.75 651.6V697.2M158.25 655.8V695.5M158.75 656.8V693.4M159.25 648.0V689.3M159.75 654.5V693.1M160.25 646.1V682.1M160.75 649.0V682.2M161.25 654.8V678.5M161.75 650.9V673.9M162.25 646.1V679.2M162.75 654.0V671.7M163.25 655.0V677.3M163.75 656.1V677.8M164.25 649.4V677.9M164.75 636.6V671.2M165.25 644.1V670.0M165.75 638.7V686.0M166.25 643.2V675.8M166.75 642.6V677.5M167.25 645.6V674.2M167.75 639.1V670.9M168.25 635.7V670.7M168.75 632.0V669.9M169.25 639.8V679.6M169.75 640.6V679.2M170.25 643.2V683.6M170.75 637.5V679.8M171.25 636.4V675.6M171.75 639.3V672.0M172.25 642.1V671.5M172.75 643.9V673.7M173.25 643.0V664.7M173.75 633.1V668.2M174.25 634.3V668.7M174.75 635.8V665.9M175.25 635.9V665.8M175.75 630.1V662.3M176.25 627.1V662.9M176.75 627.3V665.4M177.25 635.5V673.3M177.75 632.0V664.4M178.25 630.8V674.8M178.75 629.3V669.2M179.25 628.9V668.1M179.75 628.6V667.7M180.25 630.4V662.4M180.75 635.7V660.1M181.25 638.2V659.5M181.75 640.5V665.9M182.25 626.0V657.7M182.75 627.3V655.9M183.25 634.2V655.4M183.75 638.6V656.3M184.25 631.4V659.7M184.75 627.4V664.1M185.25 630.7V664.0M185.75 625.0V657.5M186.25 630.2V654.0M186.75 626.2V653.1M187.25 623.5V652.7M187.75 619.7V648.7M188.25 618.1V659.2M188.75 619.4V656.2M189.25 621.1V661.5M189.75 623.2V660.2M190.25 612.5V673.6M190.75 610.8V657.9M191.25 617.4V653.4M191.75 620.6V663.7M192.25 622.6V666.4M192.75 624.1V667.0M193.25 624.7V658.6M193.75 617.2V668.4M194.25 617.6V668.2M194.75 611.5V675.1M195.25 621.2V675.1M195.75 619.8V670.5M196.25 625.1V667.6M196.75 625.3V658.3M197.25 617.4V667.0M197.75 620.5V661.4M198.25 620.0V661.1M198.75 606.7V658.7M199.25 605.4V653.4M199.75 603.6V651.0M200.25 602.7V641.1M200.75 610.2V652.6M201.25 608.0V653.3M201.75 609.3V647.1M202.25 608.0V645.6M202.75 599.5V649.4M203.25 610.0V643.0M203.75 604.3V646.2M204.25 598.9V639.2M204.75 604.1V644.0M205.25 605.3V642.6M205.75 605.0V656.3M206.25 614.4V641.7M206.75 605.7V644.0M207.25 606.4V647.9M207.75 607.4V643.5M208.25 603.8V647.3M208.75 600.3V645.1M209.25 601.2V646.1M209.75 609.6V638.1M210.25 615.4V639.5M210.75 613.1V644.4M211.25 612.8V643.1M211.75 607.6V646.6M212.25 598.9V643.2M212.75 601.6V640.6M213.25 592.3V639.3M213.75 599.1V637.3M214.25 599.3V638.5M214.75 604.4V646.0M215.25 600.0V636.0M215.75 601.8V639.8M216.25 607.1V644.9M216.75 602.9V637.3M217.25 603.7V634.4M217.75 597.5V634.3M218.25 592.7V630.6M218.75 598.1V629.5M219.25 596.9V628.1M219.75 588.9V630.1M220.25 595.3V622.2M220.75 590.6V626.0M221.25 597.4V626.8M221.75 598.3V631.3M222.25 594.3V634.5M222.75 595.6V631.3M223.25 593.8V643.0M223.75 590.6V633.1M224.25 582.7V640.6M224.75 595.1V642.7M225.25 588.1V638.9M225.75 587.8V634.5M226.25 596.1V632.4M226.75 587.2V631.2M227.25 587.2V635.8M227.75 588.6V629.5M228.25 581.7V626.0M228.75 579.5V624.7M229.25 589.9V633.1M229.75 593.5V639.5M230.25 590.1V639.0M230.75 589.0V647.2M231.25 596.7V641.5M231.75 593.4V640.0M232.25 600.7V640.0M232.75 605.4V644.7M233.25 597.3V632.3M233.75 590.9V634.9M234.25 591.7V638.0M234.75 586.6V639.1M235.25 595.4V643.7M235.75 595.7V635.4M236.25 598.3V629.5M236.75 602.6V628.6M237.25 596.1V635.1M237.75 593.6V647.6M238.25 591.6V631.9M238.75 599.9V633.3M239.25 588.1V624.5M239.75 585.5V629.6M240.25 584.0V646.8M240.75 580.6V635.3M241.25 588.2V639.2M241.75 584.5V630.7M242.25 590.0V620.2M242.75 585.0V611.1M243.25 583.2V627.2M243.75 583.4V634.2M244.25 583.2V639.5M244.75 590.4V658.0M245.25 598.9V643.2M245.75 584.4V629.4M246.25 593.8V624.6M246.75 585.7V611.1M247.25 579.7V621.3M247.75 577.5V606.6M248.25 580.6V604.4M248.75 579.1V613.1M249.25 576.4V615.1M249.75 573.6V608.5M250.25 572.5V620.1M250.75 573.2V615.6M251.25 582.7V620.8M251.75 575.7V611.2M252.25 564.0V614.4M252.75 574.9V621.0M253.25 576.8V623.0M253.75 575.4V613.8M254.25 569.0V606.3M254.75 569.0V607.5M255.25 564.0V619.0M255.75 560.2V600.2M256.25 559.7V598.1M256.75 565.6V591.5M257.25 563.2V600.6M257.75 563.6V601.6M258.25 560.5V605.6M258.75 562.4V606.7M259.25 562.3V605.2M259.75 565.3V597.0M260.25 559.1V589.1M260.75 555.1V596.5M261.25 560.2V597.3M261.75 563.4V593.3M262.25 559.3V590.6M262.75 561.3V590.2M263.25 552.6V592.0M263.75 556.1V591.7M264.25 562.8V610.5M264.75 563.9V603.8M265.25 561.5V600.4M265.75 568.4V595.1M266.25 562.8V596.1M266.75 559.7V600.2M267.25 566.4V602.3M267.75 560.5V608.9M268.25 564.5V602.2M268.75 569.0V605.1M269.25 567.1V597.3M269.75 567.3V592.9M270.25 559.9V592.0M270.75 555.0V591.8M271.25 552.3V590.8M271.75 566.7V597.5M272.25 551.0V600.5M272.75 555.6V603.5M273.25 558.5V606.0M273.75 566.3V606.2M274.25 567.8V604.0M274.75 561.7V607.0M275.25 557.4V612.6M275.75 558.4V604.4M276.25 553.9V605.3M276.75 559.2V605.6M277.25 554.5V604.6M277.75 562.9V608.6M278.25 562.1V612.7M278.75 573.7V606.9M279.25 572.2V606.8M279.75 574.4V608.1M280.25 571.5V607.6M280.75 576.0V610.6M281.25 573.0V609.2M281.75 563.3V603.2M282.25 565.9V614.4M282.75 568.2V602.5M283.25 564.2V600.5M283.75 558.7V598.4M284.25 556.5V606.1M284.75 557.7V598.5M285.25 566.6V599.9M285.75 569.5V616.0M286.25 568.7V608.4M286.75 570.2V601.6M287.25 566.9V607.1M287.75 573.0V616.5M288.25 565.5V613.8M288.75 566.3V607.8M289.25 568.9V616.1M289.75 573.8V615.1M290.25 576.9V607.4M290.75 567.1V616.7M291.25 577.7V619.7M291.75 573.7V616.1M292.25 576.0V607.8M292.75 574.1V617.1M293.25 569.6V615.9M293.75 569.7V614.3M294.25 571.8V605.3M294.75 574.9V614.6M295.25 574.9V616.5M295.75 563.8V606.2M296.25 570.6V617.8M296.75 584.2V604.6M297.25 575.5V596.5M297.75 569.1V600.4M298.25 562.4V601.3M298.75 564.1V593.4M299.25 570.4V600.5M299.75 571.7V605.3M300.25 567.2V604.7M300.75 565.1V605.7M301.25 570.6V604.4M301.75 578.0V604.0M302.25 577.5V608.0M302.75 577.3V609.0M303.25 576.9V613.5M303.75 568.6V613.0M304.25 578.8V609.7M304.75 583.5V616.1M305.25 582.4V621.5M305.75 583.8V621.6M306.25 584.8V623.7M306.75 589.4V619.1M307.25 591.5V620.8M307.75 587.6V615.7M308.25 589.8V617.1M308.75 595.2V612.2M309.25 587.9V616.0M309.75 591.2V614.8M310.25 593.0V621.9M310.75 587.4V612.9M311.25 588.2V617.7M311.75 581.8V615.2M312.25 579.3V622.1M312.75 575.6V614.0M313.25 571.2V618.2M313.75 569.5V624.3M314.25 574.8V612.1M314.75 574.3V613.4M315.25 568.1V621.8M315.75 576.4V624.8M316.25 585.2V622.2M316.75 584.5V623.4M317.25 581.8V614.5M317.75 585.3V603.1M318.25 585.3V615.8M318.75 588.9V618.0M319.25 586.0V617.6M319.75 580.4V611.9M320.25 584.1V620.9M320.75 583.3V623.7M321.25 587.7V625.8M321.75 586.0V615.2M322.25 587.0V605.0M322.75 580.0V606.8M323.25 582.2V611.9M323.75 580.7V616.6M324.25 582.5V612.0M324.75 578.7V616.4M325.25 574.0V619.5M325.75 579.5V608.3M326.25 578.4V604.7M326.75 574.6V598.9M327.25 575.9V600.9M327.75 573.2V596.5M328.25 577.4V608.8M328.75 579.5V606.0M329.25 568.9V602.1M329.75 564.4V592.5M330.25 554.4V597.3M330.75 553.5V600.8M331.25 555.2V595.5M331.75 555.4V590.8M332.25 562.4V591.8M332.75 561.2V610.4M333.25 562.4V602.9M333.75 558.8V605.7M334.25 561.6V606.0M334.75 552.2V606.0M335.25 544.7V606.3M335.75 537.3V599.5M336.25 545.8V603.6M336.75 549.3V608.6M337.25 552.0V614.8M337.75 549.3V603.5M338.25 544.7V597.2M338.75 556.0V595.4M339.25 557.8V594.1M339.75 556.5V590.4M340.25 558.2V598.2M340.75 558.7V602.1M341.25 555.1V598.6M341.75 552.2V590.9M342.25 551.5V590.4M342.75 559.7V595.0M343.25 555.9V603.4M343.75 563.1V607.5M344.25 553.9V599.5M344.75 557.3V595.8M345.25 562.2V595.8M345.75 557.2V601.5M346.25 560.5V600.2M346.75 555.2V595.8M347.25 559.9V597.1M347.75 566.5V595.4M348.25 561.6V599.3M348.75 559.4V594.7M349.25 548.7V592.9M349.75 553.0V586.6M350.25 552.2V591.3M350.75 561.4V590.9M351.25 558.3V595.2M351.75 566.9V590.9M352.25 569.6V591.4M352.75 571.7V600.8M353.25 570.9V609.2M353.75 567.1V602.7M354.25 572.3V594.1M354.75 571.3V599.3M355.25 572.6V598.5M355.75 573.4V600.0M356.25 573.7V605.2M356.75 575.4V609.6M357.25 570.3V605.1M357.75 568.1V602.8M358.25 568.9V599.9M358.75 566.5V603.9M359.25 566.8V598.5M359.75 567.7V601.1M360.25 570.0V601.8M360.75 564.2V603.7M361.25 563.6V606.5M361.75 557.2V597.8M362.25 555.6V588.1M362.75 552.9V584.4M363.25 554.8V591.6M363.75 553.1V588.3M364.25 554.6V587.6M364.75 556.8V598.2M365.25 560.1V600.0M365.75 565.9V597.3M366.25 570.3V593.8M366.75 567.0V585.6M367.25 550.7V584.2M367.75 546.4V587.5M368.25 548.3V585.9M368.75 555.5V581.9M369.25 553.9V596.6M369.75 556.7V601.0M370.25 553.2V588.6M370.75 553.9V581.4M371.25 561.0V583.8M371.75 558.7V593.3M372.25 560.3V587.9M372.75 563.8V593.1M373.25 564.1V584.9M373.75 569.3V588.4M374.25 566.6V597.4M374.75 564.8V592.1M375.25 559.7V592.9M375.75 566.4V596.3M376.25 571.6V598.5M376.75 574.0V595.6M377.25 578.5V598.7M377.75 572.2V593.8M378.25 571.9V602.9M378.75 579.2V597.4M379.25 575.7V598.7M379.75 579.1V609.1M380.25 576.3V602.1M380.75 576.7V598.4M381.25 574.7V594.3M381.75 574.1V600.3M382.25 567.1V601.6M382.75 564.4V605.1M383.25 565.1V608.6M383.75 572.1V607.2M384.25 571.9V597.3M384.75 577.7V616.1M385.25 569.0V608.9M385.75 574.9V609.7M386.25 574.8V618.9M386.75 581.7V616.4M387.25 583.8V615.1M387.75 586.9V610.3M388.25 583.9V608.4M388.75 576.3V604.1M389.25 572.1V609.6M389.75 577.8V608.3M390.25 576.3V600.0M390.75 579.8V606.5M391.25 576.5V604.3M391.75 576.3V603.1M392.25 575.3V603.9M392.75 574.0V599.2M393.25 575.9V595.9M393.75 569.3V602.8M394.25 568.7V600.4M394.75 568.9V599.1M395.25 564.9V597.3M395.75 568.6V603.2M396.25 563.0V598.0M396.75 563.4V596.7M397.25 564.1V594.8M397.75 561.3V595.3M398.25 562.6V588.3M398.75 560.6V587.3M399.25 565.9V587.0M399.75 565.0V601.6M400.25 566.3V594.1M400.75 560.7V586.6M401.25 555.9V587.1M401.75 558.5V581.5M402.25 555.8V579.5M402.75 556.3V580.3M403.25 559.8V583.8M403.75 559.6V580.9M404.25 543.5V594.5M404.75 552.9V589.5M405.25 556.0V587.0M405.75 551.8V592.6M406.25 549.0V585.2M406.75 547.5V578.3M407.25 549.9V578.1M407.75 550.4V582.9M408.25 541.9V584.4M408.75 542.4V579.9M409.25 542.6V577.7M409.75 540.8V579.7M410.25 542.7V571.3M410.75 544.9V579.6M411.25 546.5V574.0M411.75 545.9V572.7M412.25 539.3V574.9M412.75 538.1V568.2M413.25 538.6V574.4M413.75 540.9V573.1M414.25 544.3V572.7M414.75 547.8V576.4M415.25 545.4V574.8M415.75 546.1V576.3M416.25 545.7V574.1M416.75 544.1V571.2M417.25 541.1V582.8M417.75 545.1V580.9M418.25 543.8V581.4M418.75 541.2V578.1M419.25 547.9V572.6M419.75 540.5V571.4M420.25 545.9V574.5M420.75 539.0V576.7M421.25 542.3V582.7M421.75 545.1V581.3M422.25 552.1V581.2M422.75 556.1V576.1M423.25 557.4V578.0M423.75 561.2V574.8M424.25 560.6V572.2M424.75 560.0V593.2M425.25 560.6V589.0M425.75 556.4V583.3M426.25 557.7V586.8M426.75 556.7V590.3M427.25 560.7V603.8M427.75 555.5V592.7M428.25 556.2V587.6M428.75 555.6V582.2M429.25 557.5V583.7M429.75 550.4V588.6M430.25 548.3V576.0M430.75 545.5V592.1M431.25 554.3V587.3M431.75 558.8V587.1M432.25 557.5V581.0M432.75 552.4V581.5M433.25 558.8V578.4M433.75 557.4V580.2M434.25 555.1V574.2M434.75 553.4V575.1M435.25 547.8V576.2M435.75 550.5V582.4M436.25 545.8V577.4M436.75 540.0V572.4M437.25 540.2V572.6M437.75 538.1V570.0M438.25 536.8V570.1M438.75 537.2V561.1M439.25 530.1V567.4M439.75 527.9V568.2M440.25 531.5V569.1M440.75 531.3V579.0M441.25 528.6V570.7M441.75 533.1V572.1M442.25 536.0V575.2M442.75 538.9V570.2M443.25 536.5V567.5M443.75 537.4V553.8M444.25 537.2V561.0M444.75 532.7V567.1M445.25 533.4V562.2M445.75 523.7V560.2M446.25 521.5V557.0M446.75 531.4V559.6M447.25 530.0V558.7M447.75 524.1V572.7M448.25 530.1V561.0M448.75 521.9V553.3M449.25 523.4V563.8M449.75 527.0V556.3M450.25 528.7V559.7M450.75 524.2V560.7M451.25 527.0V562.9M451.75 520.6V560.2M452.25 523.8V567.7M452.75 521.8V557.9M453.25 529.5V560.8M453.75 532.6V561.5" stroke="#0072BD" stroke-width="1" fill="none"/>
<path d="M467.75 585.5V640.9M468.25 585.0V638.8M468.75 589.6V638.5M469.25 597.1V626.4M469.75 594.3V626.9M470.25 588.4V628.7M470.75 587.1V617.7M471.25 589.6V625.3M471.75 584.7V624.6M472.25 588.8V625.2M472.75 584.8V623.2M473.25 586.7V620.5M473.75 591.0V615.2M474.25 591.0V613.3M474.75 589.3V613.4M475.25 578.3V621.6M475.75 579.3V620.7M476.25 582.0V616.2M476.75 582.3V613.4M477.25 577.6V613.2M477.75 572.0V624.9M478.25 578.5V620.6M478.75 582.1V614.3M479.25 580.8V608.9M479.75 581.4V611.3M480.25 583.8V610.9M480.75 579.8V611.1M481.25 581.2V608.7M481.75 581.7V609.9M482.25 583.2V607.6M482.75 587.7V617.1M483.25 586.8V615.7M483.75 582.9V613.3M484.25 574.1V613.3M484.75 575.4V629.5M485.25 575.9V622.5M485.75 578.9V614.6M486.25 576.3V613.2M486.75 581.0V620.1M487.25 579.2V617.2M487.75 585.4V620.1M488.25 587.8V615.3M488.75 592.1V624.1M489.25 586.1V625.9M489.75 591.4V628.9M490.25 591.7V626.6M490.75 588.0V626.5M491.25 592.2V621.8M491.75 592.0V626.5M492.25 592.1V622.7M492.75 593.2V631.2M493.25 587.2V635.6M493.75 594.0V627.5M494.25 595.2V626.3M494.75 594.7V628.7M495.25 599.1V629.7M495.75 597.5V631.7M496.25 596.2V625.3M496.75 590.7V631.9M497.25 591.8V634.6M497.75 599.7V633.0M498.25 602.4V630.6M498.75 601.2V633.6M499.25 608.3V635.1M499.75 612.5V636.1M500.25 606.6V646.3M500.75 606.1V642.8M501.25 604.3V640.3M501.75 607.0V641.8M502.25 605.4V641.8M502.75 603.1V641.9M503.25 606.4V631.6M503.75 611.3V640.8M504.25 608.4V636.2M504.75 607.0V633.1M505.25 600.7V633.3M505.75 596.5V632.9M506.25 601.9V627.8M506.75 599.9V638.3M507.25 603.2V646.8M507.75 604.3V640.7M508.25 602.7V637.2M508.75 607.2V633.5M509.25 605.5V640.7M509.75 602.9V640.2M510.25 612.4V642.9M510.75 610.8V634.8M511.25 617.0V638.8M511.75 612.0V644.5M512.25 615.0V642.4M512.75 617.5V641.8M513.25 617.6V638.2M513.75 610.2V638.4M514.25 611.0V647.7M514.75 607.5V647.9M515.25 618.4V647.0M515.75 613.9V642.8M516.25 622.9V660.2M516.75 612.0V646.8M517.25 621.4V646.2M517.75 619.9V649.3M518.25 617.3V651.6M518.75 615.1V644.1M519.25 614.7V645.2M519.75 622.4V655.7M520.25 621.7V654.1M520.75 621.2V658.7M521.25 626.6V656.4M521.75 630.1V663.4M522.25 627.0V669.4M522.75 623.6V664.1M523.25 621.6V657.2M523.75 633.5V660.7M524.25 635.7V660.4M524.75 634.5V674.3M525.25 634.3V664.8M525.75 637.7V661.7M526.25 637.3V660.7M526.75 636.4V662.8M527.25 635.6V657.7M527.75 637.6V658.1M528.25 637.7V658.5M528.75 637.4V655.9M529.25 633.1V660.1M529.75 630.7V656.8M530.25 630.4V662.0M530.75 624.7V659.0M531.25 625.7V656.2M531.75 630.4V660.3M532.25 628.2V659.3M532.75 624.3V658.0M533.25 623.1V648.9M533.75 627.5V655.1M534.25 621.5V655.1M534.75 624.0V654.9M535.25 626.2V647.1M535.75 629.9V648.6M536.25 627.4V650.5M536.75 627.0V645.7M537.25 631.1V648.7M537.75 634.2V652.6M538.25 632.5V650.8M538.75 632.0V646.9M539.25 633.4V652.1M539.75 635.5V651.7M540.25 633.6V654.9M540.75 629.7V650.6M541.25 635.9V656.2M541.75 631.9V658.7M542.25 632.1V658.8M542.75 632.6V653.4M543.25 631.1V660.5M543.75 632.6V658.1M544.25 637.6V660.8M544.75 632.4V660.6M545.25 636.7V659.3M545.75 631.1V661.3M546.25 634.2V660.4M546.75 634.3V664.7M547.25 633.2V664.8M547.75 630.6V658.6M548.25 635.1V657.0M548.75 633.2V661.0M549.25 624.8V662.5M549.75 625.9V662.2M550.25 627.4V660.5M550.75 630.0V662.8M551.25 631.4V660.4M551.75 638.6V660.7M552.25 637.0V659.6M552.75 641.4V658.1M553.25 644.6V663.9M553.75 644.9V667.5M554.25 642.3V664.1M554.75 639.9V668.3M555.25 640.8V670.0M555.75 644.9V679.6M556.25 642.7V669.6M556.75 636.4V672.2M557.25 635.6V667.1M557.75 637.1V667.0M558.25 636.1V664.4M558.75 639.1V666.4M559.25 642.1V665.8M559.75 642.8V663.8M560.25 644.0V661.0M560.75 642.7V680.9M561.25 638.5V681.3M561.75 645.0V677.7M562.25 649.8V676.3M562.75 642.9V677.3M563.25 642.3V680.1M563.75 641.8V683.5M564.25 640.8V674.3M564.75 643.8V674.6M565.25 644.9V672.5M565.75 648.5V667.4M566.25 651.1V674.3M566.75 645.9V672.6M567.25 645.5V676.4M567.75 646.6V677.6M568.25 643.0V673.9M568.75 644.2V677.3M569.25 649.3V695.3M569.75 651.6V687.8M570.25 652.0V689.1M570.75 654.2V684.0M571.25 645.3V679.6M571.75 648.1V682.2M572.25 656.0V678.7M572.75 658.0V684.8M573.25 656.6V681.0M573.75 658.3V684.1M574.25 654.7V680.5M574.75 654.1V682.3M575.25 649.3V682.7M575.75 644.5V679.8M576.25 649.3V689.1M576.75 651.7V688.9M577.25 652.0V683.0M577.75 653.6V691.7M578.25 654.2V687.2M578.75 651.4V679.8M579.25 649.9V681.6M579.75 656.4V678.9M580.25 654.5V684.5M580.75 654.0V677.3M581.25 654.1V674.3M581.75 652.4V682.0M582.25 650.7V681.0M582.75 650.8V678.0M583.25 656.7V675.3M583.75 654.7V688.5M584.25 654.0V672.4M584.75 648.9V673.5M585.25 648.2V669.4M585.75 643.0V670.2M586.25 638.5V672.3M586.75 642.6V671.3M587.25 641.2V670.9M587.75 637.4V670.6M588.25 631.5V671.2M588.75 636.9V674.9M589.25 649.0V675.2M589.75 641.8V673.8M590.25 640.8V669.7M590.75 642.4V671.0M591.25 638.3V667.0M591.75 635.8V674.6M592.25 637.0V669.9M592.75 638.2V686.5M593.25 649.7V677.5M593.75 649.6V669.7M594.25 645.2V665.5M594.75 650.7V667.3M595.25 649.2V667.1M595.75 647.2V678.5M596.25 648.1V672.5M596.75 647.2V670.2M597.25 647.1V670.7M597.75 647.2V675.2M598.25 642.6V677.3M598.75 650.1V672.3M599.25 650.7V671.2M599.75 650.8V674.6M600.25 651.7V675.1M600.75 652.3V673.9M601.25 654.3V673.5M601.75 660.9V675.5M602.25 658.2V679.9M602.75 655.5V673.7M603.25 654.8V677.7M603.75 660.4V679.6M604.25 658.6V685.7M604.75 657.7V687.9M605.25 655.9V684.4M605.75 650.6V680.1M606.25 651.7V677.2M606.75 649.5V675.7M607.25 655.8V682.4M607.75 653.9V679.9M608.25 650.0V672.5M608.75 655.6V679.2M609.25 649.6V677.4M609.75 651.4V679.3M610.25 651.2V684.1M610.75 648.9V684.0M611.25 648.4V681.9M611.75 646.4V678.9M612.25 647.8V678.6M612.75 647.3V678.7M613.25 646.5V671.8M613.75 643.0V673.7M614.25 634.8V667.2M614.75 628.7V661.6M615.25 634.8V658.2M615.75 635.9V657.1M616.25 638.0V667.3M616.75 638.2V663.4M617.25 630.2V664.3M617.75 630.8V666.9M618.25 635.1V672.0M618.75 636.0V672.5M619.25 640.2V665.7M619.75 641.6V670.2M620.25 635.7V670.9M620.75 626.2V672.0M621.25 619.4V671.7M621.75 623.1V662.2M622.25 621.2V669.7M622.75 625.4V664.5M623.25 631.2V681.1M623.75 627.5V671.0M624.25 636.4V668.2M624.75 630.2V660.6M625.25 633.6V668.3M625.75 629.1V663.2M626.25 634.2V661.0M626.75 635.9V659.0M627.25 630.0V662.4M627.75 630.0V657.7M628.25 627.5V660.9M628.75 632.0V666.6M629.25 634.6V664.8M629.75 640.2V669.2M630.25 638.5V666.7M630.75 643.7V661.4M631.25 636.2V663.1M631.75 638.3V665.0M632.25 639.3V675.3M632.75 639.6V667.1M633.25 631.8V665.5M633.75 628.7V666.0M634.25 633.6V666.5M634.75 632.1V669.1M635.25 634.8V663.8M635.75 635.0V663.3M636.25 635.4V660.4M636.75 644.6V663.8M637.25 639.6V661.9M637.75 636.7V661.9M638.25 639.8V656.1M638.75 633.2V654.4M639.25 631.9V652.0M639.75 628.6V648.3M640.25 622.9V651.2M640.75 615.4V652.2M641.25 616.2V661.8M641.75 613.9V652.1M642.25 623.0V645.3M642.75 615.1V639.7M643.25 618.6V653.0M643.75 616.9V651.6M644.25 622.5V658.4M644.75 619.7V653.5M645.25 619.2V649.7M645.75 620.7V646.3M646.25 615.7V645.6M646.75 613.1V642.9M647.25 616.8V647.3M647.75 617.5V648.1M648.25 616.0V652.7M648.75 619.7V644.7M649.25 617.5V647.7M649.75 626.5V650.9M650.25 617.0V645.2M650.75 616.7V638.2M651.25 617.8V637.1M651.75 616.4V639.2M652.25 615.8V642.0M652.75 616.1V639.7M653.25 616.1V641.4M653.75 612.0V646.5M654.25 610.8V642.8M654.75 618.0V657.9M655.25 622.3V655.5M655.75 619.4V654.0M656.25 622.8V649.8M656.75 623.3V644.8M657.25 624.3V651.0M657.75 625.5V652.4M658.25 626.1V653.7M658.75 627.5V651.6M659.25 628.0V654.0M659.75 629.3V667.8M660.25 626.3V661.8M660.75 628.8V657.5M661.25 628.1V660.4M661.75 623.8V653.3M662.25 624.6V654.5M662.75 624.8V651.8M663.25 623.0V663.6M663.75 627.8V659.0M664.25 633.9V658.7M664.75 627.2V657.6M665.25 635.0V648.2M665.75 636.8V651.1M666.25 636.2V649.8M666.75 632.2V659.2M667.25 627.5V652.7M667.75 632.3V646.3M668.25 637.3V652.9M668.75 634.5V661.9M669.25 637.2V653.5M669.75 639.8V657.2M670.25 633.9V662.4M670.75 627.0V665.3M671.25 627.7V664.2M671.75 626.7V658.0M672.25 624.1V657.1M672.75 628.9V662.9M673.25 627.7V661.8M673.75 634.2V663.9M674.25 637.7V662.2M674.75 627.0V662.1M675.25 626.2V660.1M675.75 626.2V661.2M676.25 630.3V660.5M676.75 631.6V670.8M677.25 627.8V666.3M677.75 634.8V662.3M678.25 630.2V660.2M678.75 632.3V668.5M679.25 632.6V663.2M679.75 628.2V668.6M680.25 623.2V661.0M680.75 631.9V670.7M681.25 640.5V665.3M681.75 637.2V658.3M682.25 643.4V666.9M682.75 642.7V672.7M683.25 641.3V677.4M683.75 640.6V673.3M684.25 646.6V678.8M684.75 648.7V676.3M685.25 653.5V676.9M685.75 652.0V675.8M686.25 654.8V675.4M686.75 647.1V673.5M687.25 638.4V673.5M687.75 645.0V679.6M688.25 647.3V676.9M688.75 650.7V682.1M689.25 656.9V680.1M689.75 654.8V681.1M690.25 653.5V679.2M690.75 653.4V678.6M691.25 649.4V679.7M691.75 648.3V673.5M692.25 648.8V670.4M692.75 651.2V671.0M693.25 641.5V666.7M693.75 649.5V668.6M694.25 655.3V670.7M694.75 657.6V675.7M695.25 651.2V678.0M695.75 646.6V679.8M696.25 646.3V675.0M696.75 641.1V670.4M697.25 641.9V669.1M697.75 644.9V664.5M698.25 640.8V664.1M698.75 638.5V662.3M699.25 636.1V667.9M699.75 638.5V666.9M700.25 642.4V666.6M700.75 633.7V664.6M701.25 629.9V661.6M701.75 627.8V655.6M702.25 633.5V658.7M702.75 631.0V657.4M703.25 630.7V652.1M703.75 626.3V659.5M704.25 630.9V662.7M704.75 626.9V664.4M705.25 621.6V657.7M705.75 627.5V665.4M706.25 626.6V659.7M706.75 630.5V660.2M707.25 626.4V668.0M707.75 625.1V666.9M708.25 629.7V657.9M708.75 628.5V670.3M709.25 623.2V661.8M709.75 624.7V669.1M710.25 631.7V666.2M710.75 636.3V664.7M711.25 634.9V664.0M711.75 636.1V666.1M712.25 633.5V658.0M712.75 632.2V656.2M713.25 634.3V651.5M713.75 630.8V652.1M714.25 630.0V659.2M714.75 632.1V660.0M715.25 633.5V658.0M715.75 628.0V660.4M716.25 630.6V680.8M716.75 635.9V666.7M717.25 637.8V667.0M717.75 638.2V669.4M718.25 642.3V673.7M718.75 644.8V676.3M719.25 644.9V682.0M719.75 641.1V682.8M720.25 642.0V676.2M720.75 653.2V680.1M721.25 657.0V679.8M721.75 658.4V676.5M722.25 655.0V679.2M722.75 655.1V684.6M723.25 657.7V688.2M723.75 662.7V690.1M724.25 666.8V694.7M724.75 656.8V699.5M725.25 659.8V694.9M725.75 661.9V688.1M726.25 662.2V686.2M726.75 663.2V689.1M727.25 661.1V695.3M727.75 660.2V692.4M728.25 662.9V686.6M728.75 659.5V692.8M729.25 663.7V696.8M729.75 664.4V705.9M730.25 665.9V704.3M730.75 673.7V709.4M731.25 666.2V705.6M731.75 669.0V719.5M732.25 665.7V711.4M732.75 673.6V712.0M733.25 677.1V713.4M733.75 681.7V718.7M734.25 682.4V722.4M734.75 682.9V716.2M735.25 683.3V721.6M735.75 687.8V725.6M736.25 683.6V726.5M736.75 687.8V718.2M737.25 688.1V721.2M737.75 685.3V724.4M738.25 690.4V724.4M738.75 689.4V720.4M739.25 690.6V714.3M739.75 690.8V717.3M740.25 688.3V718.7M740.75 687.9V727.4M741.25 688.7V727.6M741.75 691.8V731.1M742.25 686.2V733.3M742.75 687.1V727.4M743.25 685.5V725.6M743.75 688.4V721.5M744.25 684.2V719.9M744.75 685.0V726.4M745.25 679.8V726.4M745.75 681.5V724.0M746.25 680.9V719.2M746.75 685.8V714.4M747.25 689.1V709.4M747.75 682.0V707.7M748.25 675.7V710.4M748.75 669.0V704.4M749.25 666.3V701.9M749.75 672.0V697.9M750.25 678.2V704.4M750.75 674.9V700.9M751.25 670.6V709.2M751.75 671.3V712.1M752.25 667.6V701.4M752.75 666.3V698.6M753.25 666.8V700.1M753.75 657.5V701.4M754.25 664.2V698.5M754.75 666.7V693.8M755.25 659.6V686.0M755.75 664.2V691.9M756.25 661.5V706.6M756.75 657.5V697.8M757.25 661.3V697.1M757.75 662.0V695.9M758.25 661.1V695.8M758.75 666.5V690.5M759.25 666.0V688.5M759.75 657.2V686.1M760.25 657.2V687.2M760.75 653.0V688.6M761.25 653.9V691.2M761.75 662.7V687.8M762.25 658.6V684.8M762.75 655.8V677.9M763.25 661.4V680.5M763.75 655.7V683.5M764.25 645.9V684.6M764.75 645.6V687.7M765.25 642.3V690.1M765.75 649.3V685.1M766.25 651.2V689.8M766.75 653.9V679.6M767.25 647.1V678.2M767.75 649.9V674.9M768.25 652.2V677.1M768.75 652.7V676.2M769.25 654.3V691.8M769.75 651.9V686.7M770.25 654.5V681.8M770.75 656.1V675.1M771.25 651.0V681.2M771.75 640.2V682.2M772.25 647.5V681.6M772.75 650.2V689.5M773.25 645.0V688.7M773.75 643.3V685.0M774.25 647.5V694.7M774.75 647.5V680.8M775.25 648.7V694.0M775.75 653.4V685.4M776.25 651.5V680.1M776.75 651.4V684.4M777.25 652.7V683.2M777.75 656.6V681.7M778.25 657.2V682.3M778.75 653.4V686.3M779.25 658.2V683.2M779.75 660.5V682.3M780.25 655.6V691.4M780.75 657.0V689.8M781.25 651.2V693.8M781.75 653.0V685.5M782.25 655.8V700.4M782.75 661.3V693.4M783.25 660.7V687.8M783.75 658.3V687.5M784.25 656.2V684.7M784.75 655.5V687.0M785.25 662.6V689.1M785.75 659.4V688.4M786.25 658.4V693.7M786.75 662.0V695.8M787.25 667.1V690.4M787.75 670.1V697.0M788.25 666.5V695.0M788.75 669.6V688.1M789.25 668.9V691.4M789.75 676.0V700.1M790.25 673.8V699.6M790.75 664.9V697.9M791.25 664.3V695.7M791.75 666.5V695.1M792.25 663.5V691.5M792.75 660.1V697.7M793.25 652.3V695.4M793.75 652.3V694.3M794.25 651.1V687.4M794.75 656.1V685.4M795.25 657.2V692.5M795.75 656.2V687.8M796.25 655.8V695.3M796.75 656.1V688.5M797.25 657.4V694.1M797.75 655.8V701.6M798.25 657.9V693.6M798.75 649.8V694.3M799.25 661.7V692.7M799.75 662.6V698.2M800.25 663.6V698.4M800.75 669.1V696.7M801.25 668.2V694.5M801.75 669.7V700.5M802.25 667.7V690.7M802.75 672.0V698.3M803.25 671.0V697.3M803.75 677.4V706.3M804.25 680.3V705.8M804.75 676.5V710.0M805.25 677.3V707.5M805.75 679.3V722.6M806.25 673.0V710.8M806.75 674.1V706.3M807.25 678.6V710.9M807.75 677.1V711.7M808.25 668.2V708.1M808.75 672.1V702.1M809.25 678.2V708.6M809.75 680.5V707.2M810.25 681.0V700.8M810.75 674.3V712.5M811.25 679.1V706.5M811.75 682.0V713.5M812.25 678.9V704.0M812.75 683.4V707.5M813.25 686.8V709.1M813.75 682.1V707.5M814.25 682.9V707.8M814.75 678.9V711.3M815.25 679.1V715.8M815.75 679.3V712.5M816.25 680.9V709.3M816.75 686.2V709.6M817.25 687.9V710.4M817.75 679.9V709.0M818.25 681.6V709.2M818.75 679.9V707.0M819.25 694.0V716.0M819.75 691.2V717.4M820.25 688.8V718.3M820.75 690.1V725.6M821.25 691.0V724.8M821.75 689.4V719.5M822.25 698.0V715.2M822.75 696.0V718.9M823.25 694.3V718.9M823.75 691.6V729.5M824.25 690.8V727.4M824.75 696.9V726.2M825.25 700.3V732.2M825.75 696.3V729.4M826.25 699.6V726.3M826.75 694.8V730.3M827.25 693.7V726.0M827.75 697.0V738.8M828.25 700.3V730.8M828.75 698.4V736.2M829.25 698.8V730.2M829.75 700.4V729.6M830.25 702.6V730.9M830.75 703.9V735.5M831.25 705.3V737.2M831.75 700.9V730.6M832.25 700.2V729.1M832.75 701.4V730.7M833.25 699.9V721.5M833.75 701.1V722.5M834.25 704.6V725.9M834.75 702.8V728.9M835.25 699.7V730.0M835.75 699.8V727.1M836.25 705.0V728.4M836.75 706.0V729.4M837.25 710.5V731.9M837.75 708.8V729.9M838.25 703.7V739.5M838.75 707.5V738.7M839.25 708.2V735.7M839.75 707.8V731.0M840.25 705.0V735.3M840.75 709.2V729.7M841.25 708.9V730.4M841.75 706.7V732.9M842.25 709.7V731.6M842.75 713.9V720.7M843.25 708.5V721.2M843.75 707.1V730.8M844.25 710.4V734.9M844.75 713.1V735.0M845.25 711.4V729.4M845.75 704.2V737.8M846.25 700.5V734.9M846.75 705.4V736.1M847.25 703.0V736.6M847.75 711.3V731.0M848.25 709.8V739.9M848.75 708.0V734.3M849.25 709.1V730.0M849.75 705.7V734.3M850.25 706.9V734.1M850.75 703.3V737.8M851.25 695.1V733.7M851.75 701.0V731.6M852.25 703.1V735.3M852.75 706.2V731.0M853.25 703.5V732.4M853.75 704.1V733.0M854.25 706.1V743.5M854.75 714.7V736.5M855.25 708.3V736.0M855.75 703.3V740.9M856.25 701.1V733.7M856.75 699.5V735.5M857.25 702.3V730.3M857.75 703.2V729.3M858.25 704.3V727.8M858.75 698.4V725.5M859.25 700.4V726.1M859.75 703.0V726.0M860.25 696.1V725.7M860.75 696.2V730.1M861.25 701.5V726.2M861.75 702.2V726.0M862.25 702.0V724.8M862.75 703.0V725.4M863.25 700.6V738.7M863.75 695.5V737.8M864.25 700.0V733.1M864.75 699.8V747.1M865.25 703.0V734.3M865.75 700.6V731.4M866.25 705.0V737.2M866.75 696.6V733.4M867.25 690.1V735.8M867.75 701.2V733.9M868.25 702.6V739.9M868.75 708.7V738.5M869.25 708.6V734.4M869.75 713.2V748.5M870.25 711.1V752.0M870.75 704.6V742.3M871.25 707.6V752.0M871.75 711.4V756.0M872.25 715.6V754.7M872.75 721.5V752.9M873.25 724.6V757.3M873.75 728.1V758.0M874.25 718.1V756.4M874.75 723.6V756.2M875.25 725.8V758.5M875.75 724.7V762.8M876.25 732.1V764.0M876.75 735.5V756.2M877.25 725.5V752.8M877.75 728.9V749.5M878.25 727.9V751.7M878.75 723.2V753.0M879.25 722.6V757.2M879.75 721.7V761.9M880.25 721.3V770.6M880.75 723.5V763.4M881.25 721.7V758.1M881.75 728.7V760.8M882.25 728.3V763.8M882.75 729.9V762.0M883.25 733.1V774.2M883.75 730.1V772.2M884.25 730.6V757.6M884.75 732.5V764.1M885.25 728.8V769.2M885.75 727.2V769.6M886.25 721.9V764.3M886.75 721.9V767.8M887.25 723.3V767.5M887.75 719.5V764.7M888.25 731.9V769.8M888.75 727.4V771.2M889.25 722.1V773.7M889.75 727.2V773.1M890.25 722.2V777.2M890.75 727.2V769.2M891.25 730.2V769.4M891.75 729.0V772.9M892.25 724.4V767.3M892.75 718.4V771.4M893.25 718.6V767.9M893.75 721.3V765.5M894.25 732.8V768.0M894.75 739.1V768.7M895.25 731.0V776.3M895.75 730.6V773.3M896.25 720.8V768.9M896.75 725.2V771.6M897.25 719.0V770.7M897.75 732.2V770.4M898.25 739.7V790.8M898.75 737.1V778.5M899.25 733.0V778.7M899.75 730.9V771.9M900.25 732.5V776.5M900.75 733.5V779.6M901.25 729.2V780.6M901.75 727.0V779.7M902.25 727.6V773.4M902.75 723.6V778.3M903.25 720.3V783.5M903.75 724.6V780.8M904.25 734.6V779.2M904.75 736.2V783.0M905.25 739.0V788.3M905.75 748.2V779.2M906.25 749.4V773.1M906.75 743.1V780.3M907.25 738.3V786.2M907.75 735.3V774.6M908.25 737.7V788.9M908.75 729.1V791.8M909.25 726.7V785.7M909.75 731.5V774.9M910.25 729.7V778.5M910.75 733.5V774.4M911.25 742.3V777.2M911.75 742.2V785.4M912.25 735.8V777.7M912.75 731.5V778.1M913.25 742.7V778.9M913.75 749.1V792.1M914.25 743.1V781.3M914.75 740.4V779.0M915.25 736.7V777.7M915.75 734.8V787.7M916.25 736.0V776.7M916.75 739.8V770.8M917.25 727.9V768.0M917.75 719.3V771.6M918.25 726.9V770.7M918.75 733.4V765.1M919.25 730.8V782.7M919.75 718.6V780.8M920.25 728.0V774.0M920.75 730.6V779.9M921.25 731.5V784.2M921.75 734.4V776.2M922.25 732.1V767.7M922.75 728.6V779.5M923.25 730.9V771.4M923.75 733.6V782.2M924.25 733.2V772.4M924.75 729.4V782.0M925.25 729.0V780.1M925.75 732.9V776.7M926.25 728.2V781.1M926.75 732.7V767.4M927.25 725.6V763.2M927.75 719.9V770.7M928.25 735.1V772.6M928.75 731.1V789.3M929.25 740.5V782.6M929.75 738.6V780.3M930.25 729.3V769.2M930.75 716.5V768.8M931.25 717.6V768.7M931.75 722.3V766.2M932.25 725.7V758.5M932.75 719.5V764.1M933.25 725.5V770.3M933.75 726.0V768.0M934.25 721.7V771.2M934.75 720.1V764.2M935.25 716.6V762.9M935.75 719.4V767.2M936.25 722.8V763.0M936.75 716.3V769.9M937.25 717.7V756.9M937.75 715.1V762.8M938.25 718.7V761.8M938.75 717.0V757.3M939.25 712.3V751.5M939.75 719.2V761.9M940.25 716.2V748.5M940.75 711.4V753.2M941.25 717.2V756.8M941.75 718.6V748.5M942.25 710.7V745.6M942.75 714.3V750.9M943.25 716.6V746.0M943.75 711.0V759.1M944.25 705.6V753.0M944.75 705.1V751.9M945.25 717.6V766.4M945.75 717.0V758.1M946.25 723.0V751.9M946.75 708.8V748.7M947.25 712.7V748.5M947.75 710.1V745.6M948.25 712.2V742.1M948.75 714.6V745.7M949.25 719.0V740.5M949.75 719.1V749.2M950.25 719.5V743.5M950.75 712.0V740.4M951.25 709.4V746.7M951.75 701.2V747.5M952.25 708.8V742.4M952.75 712.6V741.1M953.25 703.6V739.5M953.75 698.5V742.5M954.25 703.1V744.5M954.75 702.9V746.0M955.25 709.3V742.9M955.75 706.2V734.6M956.25 707.4V738.9M956.75 697.8V729.9M957.25 695.0V730.2M957.75 691.6V727.4M958.25 689.0V725.9M958.75 693.0V725.2M959.25 696.7V721.8M959.75 694.6V724.6M960.25 693.1V731.3M960.75 699.4V729.5M961.25 690.4V723.3M961.75 687.8V725.4M962.25 691.5V725.9M962.75 695.7V721.1M963.25 689.5V722.6M963.75 694.3V719.1M964.25 692.7V720.2M964.75 689.9V719.6M965.25 694.6V715.6M965.75 696.1V716.4M966.25 692.2V724.4M966.75 688.9V719.4M967.25 690.9V711.2M967.75 693.4V712.6M968.25 696.6V714.6M968.75 693.1V713.5M969.25 693.0V709.8M969.75 692.2V708.6M970.25 694.0V714.2M970.75 693.8V711.6M971.25 687.2V724.7M971.75 688.6V717.0M972.25 687.0V720.4M972.75 687.2V717.4M973.25 678.0V715.5M973.75 686.9V712.7M974.25 680.8V711.9M974.75 679.9V713.8M975.25 681.8V717.4M975.75 684.3V718.5M976.25 682.7V706.8M976.75 681.4V726.2M977.25 679.5V724.0M977.75 676.6V714.0M978.25 680.7V711.1M978.75 677.0V705.1M979.25 680.8V709.6M979.75 677.3V702.7M980.25 676.4V707.8M980.75 676.8V705.4M981.25 679.6V711.6M981.75 682.5V704.0M982.25 677.9V703.5M982.75 676.4V718.7M983.25 670.8V709.5M983.75 674.8V701.2M984.25 665.6V713.4M984.75 657.2V706.0M985.25 656.9V710.2M985.75 662.0V714.8M986.25 661.3V706.4M986.75 658.3V701.9M987.25 662.9V701.8M987.75 665.0V702.8M988.25 661.9V695.5M988.75 663.2V694.3M989.25 658.2V692.3M989.75 655.9V704.4M990.25 660.1V704.8M990.75 650.9V691.8M991.25 651.6V694.9M991.75 655.6V690.3M992.25 655.2V685.2M992.75 653.0V682.4M993.25 658.0V691.0M993.75 659.8V691.8M994.25 656.7V686.7M994.75 642.9V689.6M995.25 651.2V678.2M995.75 654.5V673.6M996.25 654.4V682.6M996.75 647.4V680.3M997.25 647.4V672.4M997.75 649.7V676.8M998.25 648.6V674.0M998.75 651.8V676.7M999.25 648.9V669.7M999.75 644.2V677.6M1000.25 641.6V682.1M1000.75 649.2V678.7M1001.25 641.8V678.5M1001.75 644.0V677.3M1002.25 641.5V679.5M1002.75 641.3V675.1M1003.25 640.8V674.9M1003.75 639.7V669.5M1004.25 635.9V662.8M1004.75 631.5V664.8M1005.25 630.7V662.7M1005.75 632.4V662.6M1006.25 632.1V676.1M1006.75 619.7V664.9M1007.25 624.2V664.7M1007.75 619.0V661.2M1008.25 618.9V662.9M1008.75 617.5V659.2M1009.25 620.1V650.5M1009.75 621.9V654.6M1010.25 612.2V654.4M1010.75 617.0V650.2M1011.25 621.7V652.2M1011.75 614.1V641.4M1012.25 603.5V641.8M1012.75 601.2V644.2M1013.25 602.7V645.2M1013.75 595.3V648.1M1014.25 596.2V651.0M1014.75 595.2V642.5M1015.25 604.7V653.9M1015.75 595.9V639.9M1016.25 602.8V627.6M1016.75 598.4V647.7M1017.25 600.0V636.4M1017.75 604.2V635.0M1018.25 598.1V631.8M1018.75 598.4V642.4M1019.25 598.6V637.5M1019.75 590.1V622.2M1020.25 585.6V622.0M1020.75 590.0V621.5M1021.25 592.0V623.6M1021.75 584.9V621.1M1022.25 589.0V616.8M1022.75 588.0V627.4M1023.25 589.8V634.3M1023.75 588.3V629.6M1024.25 591.0V635.6M1024.75 587.8V627.3M1025.25 580.7V620.4M1025.75 572.0V621.1M1026.25 577.8V607.6M1026.75 572.7V609.2M1027.25 567.6V609.1M1027.75 560.6V611.8M1028.25 569.2V606.4M1028.75 565.9V613.4M1029.25 570.8V621.2M1029.75 561.7V612.7M1030.25 562.1V609.0M1030.75 554.4V608.9M1031.25 546.9V609.7M1031.75 545.1V593.2M1032.25 547.4V598.8M1032.75 543.3V601.8M1033.25 544.4V600.4M1033.75 547.1V609.9M1034.25 548.7V599.9M1034.75 555.1V600.5M1035.25 555.6V604.7M1035.75 556.2V610.6M1036.25 557.6V606.1M1036.75 560.6V606.4M1037.25 556.4V612.4M1037.75 545.5V610.2M1038.25 547.9V606.8M1038.75 558.4V591.9M1039.25 544.8V593.3M1039.75 553.8V604.8M1040.25 540.3V609.0M1040.75 542.4V595.9M1041.25 546.4V600.0M1041.75 553.4V592.5M1042.25 558.0V589.3M1042.75 548.2V589.6M1043.25 540.9V584.9M1043.75 535.4V583.0M1044.25 528.4V578.7M1044.75 533.3V567.0M1045.25 538.1V559.8M1045.75 536.7V567.8M1046.25 537.8V567.4M1046.75 534.4V585.6M1047.25 533.6V572.9M1047.75 530.2V559.3M1048.25 525.8V555.8" stroke="#0072BD" stroke-width="1" fill="none"/>
</g>
<g font-size="21.5" letter-spacing="-0.15" fill="#262626">
<text x="155.5" y="831" text-anchor="middle">0</text>
<text x="341.5" y="831" text-anchor="middle">5</text>
<text x="527.5" y="831" text-anchor="middle">10</text>
<text x="713.5" y="831" text-anchor="middle">15</text>
<text x="899.5" y="831" text-anchor="middle">20</text>
<text x="1085.5" y="831" text-anchor="middle">25</text>
<text x="148.5" y="810.3" text-anchor="end">-0.5</text>
<text x="148.5" y="759.1" text-anchor="end">0</text>
<text x="148.5" y="708.0" text-anchor="end">0.5</text>
<text x="148.5" y="656.8" text-anchor="end">1</text>
<text x="148.5" y="605.6" text-anchor="end">1.5</text>
<text x="148.5" y="554.5" text-anchor="end">2</text>
<text x="148.5" y="503.3" text-anchor="end">2.5</text>
</g>
<text x="570.5" y="862" font-size="22.9" letter-spacing="0.4" fill="#262626">UT, hours</text>
<text transform="translate(98,767.5) rotate(-90)" font-size="22.9" letter-spacing="0.12" fill="#262626">F(MagDas)-F(FRG), nT</text>
</svg></body></html>
